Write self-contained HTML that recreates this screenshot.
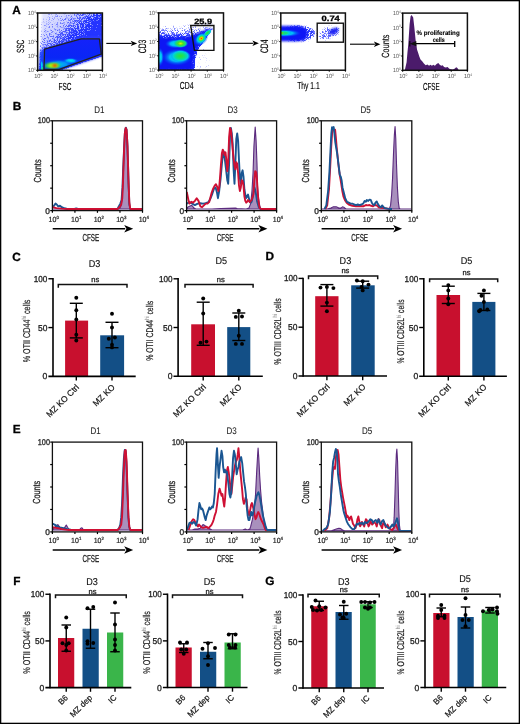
<!DOCTYPE html>
<html><head><meta charset="utf-8"><style>
html,body{margin:0;padding:0;background:#fff;width:520px;height:724px;overflow:hidden}
svg{display:block;font-family:"Liberation Sans", sans-serif;will-change:transform;text-rendering:geometricPrecision}
</style></head><body>
<svg width="520" height="724" viewBox="0 0 520 724">
<defs>
<radialGradient id="hot" cx="0.5" cy="0.5" r="0.5">
 <stop offset="0" stop-color="#ff1a00"/>
 <stop offset="0.3" stop-color="#ffb000"/>
 <stop offset="0.6" stop-color="#a0f000"/>
 <stop offset="1" stop-color="#40e040" stop-opacity="0"/>
</radialGradient>
<radialGradient id="warm" cx="0.5" cy="0.5" r="0.5">
 <stop offset="0" stop-color="#e8f000"/>
 <stop offset="0.35" stop-color="#50e020"/>
 <stop offset="0.7" stop-color="#10d890"/>
 <stop offset="1" stop-color="#00a0ff" stop-opacity="0"/>
</radialGradient>
<radialGradient id="green" cx="0.5" cy="0.5" r="0.5">
 <stop offset="0" stop-color="#30e030"/>
 <stop offset="0.45" stop-color="#10e080"/>
 <stop offset="0.75" stop-color="#00d0e0"/>
 <stop offset="1" stop-color="#0080ff" stop-opacity="0"/>
</radialGradient>
<radialGradient id="cyan" cx="0.5" cy="0.5" r="0.5">
 <stop offset="0" stop-color="#00f0e8"/>
 <stop offset="0.5" stop-color="#00b8f8"/>
 <stop offset="1" stop-color="#0040ff" stop-opacity="0"/>
</radialGradient>
<filter id="blur1" x="-20%" y="-20%" width="140%" height="140%"><feGaussianBlur stdDeviation="0.8"/></filter>
<filter id="blur2" x="-30%" y="-30%" width="160%" height="160%"><feGaussianBlur stdDeviation="1.5"/></filter>

<clipPath id="clipA1"><rect x="37.65" y="13" width="64.75" height="57.3"/></clipPath>
<clipPath id="clipA2"><rect x="158.7" y="12.9" width="64.8" height="57.2"/></clipPath>
<clipPath id="clipA3"><rect x="280.8" y="13" width="64.6" height="57.2"/></clipPath>
<clipPath id="clipA4"><rect x="402.7" y="13.1" width="64.7" height="57.2"/></clipPath>
<filter id="spk1" filterUnits="userSpaceOnUse" x="37.65" y="13" width="64.75" height="57.3" color-interpolation-filters="sRGB">
 <feTurbulence type="fractalNoise" baseFrequency="1.37" numOctaves="1" seed="11" result="noise"/>
 <feColorMatrix in="noise" type="matrix" values="0 0 0 0 0  0 0 0 0 0  0 0 0 0 0  1.5 0 0 0 -0.25" result="na"/>
 <feComposite in="SourceAlpha" in2="na" operator="arithmetic" k1="0" k2="5" k3="-5" k4="0.5" result="m"/>
 <feComposite in="m" in2="SourceAlpha" operator="arithmetic" k1="1.6" k2="0" k3="0" k4="0" result="m2"/>
 <feFlood flood-color="#2434ff" result="fl"/>
 <feComposite in="fl" in2="m2" operator="in" result="d"/>
 <feGaussianBlur in="d" stdDeviation="0.3"/>
</filter>
<linearGradient id="a1d" gradientUnits="userSpaceOnUse" x1="45" y1="14" x2="80" y2="52">
 <stop offset="0" stop-color="#000" stop-opacity="0.2"/><stop offset="0.45" stop-color="#000" stop-opacity="0.45"/><stop offset="1" stop-color="#000" stop-opacity="0.88"/></linearGradient>
<linearGradient id="a1g" gradientUnits="userSpaceOnUse" x1="0" y1="39" x2="0" y2="70">
 <stop offset="0" stop-color="#1422fa"/><stop offset="0.6" stop-color="#0a26f6"/><stop offset="1" stop-color="#0850f4"/></linearGradient>
<linearGradient id="a1t" gradientUnits="userSpaceOnUse" x1="45" y1="14" x2="80" y2="52"><stop offset="0" stop-color="#a8b0ff" stop-opacity="0.35"/><stop offset="1" stop-color="#5060ff" stop-opacity="0.55"/></linearGradient>
<filter id="spk2" filterUnits="userSpaceOnUse" x="158.7" y="12.9" width="64.8" height="57.2" color-interpolation-filters="sRGB">
 <feTurbulence type="fractalNoise" baseFrequency="1.37" numOctaves="1" seed="5" result="noise"/>
 <feColorMatrix in="noise" type="matrix" values="0 0 0 0 0  0 0 0 0 0  0 0 0 0 0  1.5 0 0 0 -0.25" result="na"/>
 <feComposite in="SourceAlpha" in2="na" operator="arithmetic" k1="0" k2="5" k3="-5" k4="0.5" result="m"/>
 <feComposite in="m" in2="SourceAlpha" operator="arithmetic" k1="1.6" k2="0" k3="0" k4="0" result="m2"/>
 <feFlood flood-color="#2434ff" result="fl"/>
 <feComposite in="fl" in2="m2" operator="in" result="d"/>
 <feGaussianBlur in="d" stdDeviation="0.3"/>
</filter>
<linearGradient id="a2top" gradientUnits="userSpaceOnUse" x1="0" y1="27" x2="0" y2="37">
 <stop offset="0" stop-color="#000" stop-opacity="0"/><stop offset="1" stop-color="#000" stop-opacity="1"/></linearGradient>
<linearGradient id="a2f" gradientUnits="userSpaceOnUse" x1="0" y1="26" x2="0" y2="39"><stop offset="0" stop-color="#000" stop-opacity="0.28"/><stop offset="1" stop-color="#000" stop-opacity="0.7"/></linearGradient>
<filter id="spk3" filterUnits="userSpaceOnUse" x="280.8" y="13" width="64.6" height="57.2" color-interpolation-filters="sRGB">
 <feTurbulence type="fractalNoise" baseFrequency="1.37" numOctaves="1" seed="9" result="noise"/>
 <feColorMatrix in="noise" type="matrix" values="0 0 0 0 0  0 0 0 0 0  0 0 0 0 0  1.5 0 0 0 -0.25" result="na"/>
 <feComposite in="SourceAlpha" in2="na" operator="arithmetic" k1="0" k2="5" k3="-5" k4="0.5" result="m"/>
 <feComposite in="m" in2="SourceAlpha" operator="arithmetic" k1="1.6" k2="0" k3="0" k4="0" result="m2"/>
 <feFlood flood-color="#2434ff" result="fl"/>
 <feComposite in="fl" in2="m2" operator="in" result="d"/>
 <feGaussianBlur in="d" stdDeviation="0.3"/>
</filter>
<clipPath id="hcB0"><rect x="52.4" y="118.8" width="90.1" height="91.3"/></clipPath>
<clipPath id="hcB1"><rect x="186.6" y="118.8" width="90" height="91.3"/></clipPath>
<clipPath id="hcB2"><rect x="321.3" y="118.8" width="90.5" height="91.3"/></clipPath>
<clipPath id="hcE0"><rect x="52.4" y="440.1" width="90.1" height="91.3"/></clipPath>
<clipPath id="hcE1"><rect x="186.6" y="440.1" width="90" height="91.3"/></clipPath>
<clipPath id="hcE2"><rect x="321.3" y="440.1" width="90.5" height="91.3"/></clipPath></defs>
<rect x="0.65" y="0.65" width="518.7" height="722.7" fill="none" stroke="#000" stroke-width="1.3"/>
<text x="12.3" y="13.8" font-size="11.8" text-anchor="start" fill="#000" stroke="#000" stroke-width="0.3" font-weight="bold">A</text>
<text x="12.8" y="110.3" font-size="11.8" text-anchor="start" fill="#000" stroke="#000" stroke-width="0.3" font-weight="bold">B</text>
<text x="12.3" y="261" font-size="11.8" text-anchor="start" fill="#000" stroke="#000" stroke-width="0.3" font-weight="bold">C</text>
<text x="265.5" y="260.4" font-size="11.8" text-anchor="start" fill="#000" stroke="#000" stroke-width="0.3" font-weight="bold">D</text>
<text x="12.8" y="433.1" font-size="11.8" text-anchor="start" fill="#000" stroke="#000" stroke-width="0.3" font-weight="bold">E</text>
<text x="13.2" y="584.5" font-size="11.8" text-anchor="start" fill="#000" stroke="#000" stroke-width="0.3" font-weight="bold">F</text>
<text x="265.2" y="584.5" font-size="11.8" text-anchor="start" fill="#000" stroke="#000" stroke-width="0.3" font-weight="bold">G</text>
<g clip-path="url(#clipA1)">
<polygon points="42,12 103,12 103,56 59,71 39,71 41,46" fill="url(#a1t)" filter="url(#blur1)"/>
<g filter="url(#spk1)"><polygon points="41,12 103,12 103,56 59,71 39,71 40,46" fill="url(#a1d)"/><polygon points="97,12 103,12 103,56 97,56" fill="#000" fill-opacity="0.15"/></g>
<polygon points="40.5,50 80,37 103,36 103,55.4 59,70.6 39.5,70.6" fill="#3040ff" opacity="0.85" filter="url(#blur1)"/>
<polygon points="44.6,49.2 81.1,38.9 99.4,38.9 101.3,54.1 59.2,69.4 44,69.4" fill="url(#a1g)"/>
<polygon points="99.4,38.9 103,38 103,55.3 101.3,54.1" fill="#1a2cff"/>
<polygon points="40.2,54 44.6,49.2 44,70.6 39.8,70.6" fill="#1440ff" filter="url(#blur1)"/>
<ellipse cx="41.8" cy="65" rx="1.3" ry="5.5" fill="url(#cyan)"/>
<ellipse cx="42.2" cy="68.5" rx="1.2" ry="2" fill="url(#green)"/>
<ellipse cx="70.5" cy="60.8" rx="8" ry="3" fill="url(#cyan)"/>
<ellipse cx="59" cy="64.2" rx="15" ry="5" fill="url(#cyan)" opacity="0.7"/>
<ellipse cx="52.3" cy="65.7" rx="8" ry="2.8" fill="#30e040" filter="url(#blur1)"/>
<ellipse cx="53.2" cy="65.5" rx="5" ry="2.1" fill="#c8f000" opacity="0.9" filter="url(#blur1)"/>
<ellipse cx="54.8" cy="65.6" rx="2.3" ry="1.3" fill="#ff2a00" filter="url(#blur1)"/>
</g>
<polygon points="44.6,49.2 81.1,38.9 99.4,38.9 101.3,54.1 59.2,69.4 44,69.4" fill="none" stroke="#222" stroke-width="1.3" stroke-linejoin="round"/>
<rect x="37.65" y="13" width="64.75" height="57.3" fill="none" stroke="#111" stroke-width="1.5"/>
<text x="35.65" y="72.4" font-size="6" text-anchor="end" fill="#555" textLength="7.6" lengthAdjust="spacingAndGlyphs">10<tspan font-size="3.6" dy="-2.2">0</tspan></text>
<line x1="36.05" y1="70.3" x2="37.65" y2="70.3" stroke="#000" stroke-width="0.9"/>
<text x="35.65" y="58.07" font-size="6" text-anchor="end" fill="#555" textLength="7.6" lengthAdjust="spacingAndGlyphs">10<tspan font-size="3.6" dy="-2.2">1</tspan></text>
<line x1="36.05" y1="55.97" x2="37.65" y2="55.97" stroke="#000" stroke-width="0.9"/>
<text x="35.65" y="43.75" font-size="6" text-anchor="end" fill="#555" textLength="7.6" lengthAdjust="spacingAndGlyphs">10<tspan font-size="3.6" dy="-2.2">2</tspan></text>
<line x1="36.05" y1="41.65" x2="37.65" y2="41.65" stroke="#000" stroke-width="0.9"/>
<text x="35.65" y="29.43" font-size="6" text-anchor="end" fill="#555" textLength="7.6" lengthAdjust="spacingAndGlyphs">10<tspan font-size="3.6" dy="-2.2">3</tspan></text>
<line x1="36.05" y1="27.33" x2="37.65" y2="27.33" stroke="#000" stroke-width="0.9"/>
<text x="35.65" y="15.1" font-size="6" text-anchor="end" fill="#555" textLength="7.6" lengthAdjust="spacingAndGlyphs">10<tspan font-size="3.6" dy="-2.2">4</tspan></text>
<line x1="36.05" y1="13" x2="37.65" y2="13" stroke="#000" stroke-width="0.9"/>
<text x="38.25" y="77.9" font-size="6" text-anchor="middle" fill="#555" textLength="8.0" lengthAdjust="spacingAndGlyphs">10<tspan font-size="3.6" dy="-2.2">0</tspan></text>
<line x1="37.65" y1="70.3" x2="37.65" y2="71.9" stroke="#000" stroke-width="0.9"/>
<text x="54.44" y="77.9" font-size="6" text-anchor="middle" fill="#555" textLength="8.0" lengthAdjust="spacingAndGlyphs">10<tspan font-size="3.6" dy="-2.2">1</tspan></text>
<line x1="53.84" y1="70.3" x2="53.84" y2="71.9" stroke="#000" stroke-width="0.9"/>
<text x="70.62" y="77.9" font-size="6" text-anchor="middle" fill="#555" textLength="8.0" lengthAdjust="spacingAndGlyphs">10<tspan font-size="3.6" dy="-2.2">2</tspan></text>
<line x1="70.03" y1="70.3" x2="70.03" y2="71.9" stroke="#000" stroke-width="0.9"/>
<text x="86.81" y="77.9" font-size="6" text-anchor="middle" fill="#555" textLength="8.0" lengthAdjust="spacingAndGlyphs">10<tspan font-size="3.6" dy="-2.2">3</tspan></text>
<line x1="86.21" y1="70.3" x2="86.21" y2="71.9" stroke="#000" stroke-width="0.9"/>
<text x="103" y="77.9" font-size="6" text-anchor="middle" fill="#555" textLength="8.0" lengthAdjust="spacingAndGlyphs">10<tspan font-size="3.6" dy="-2.2">4</tspan></text>
<line x1="102.4" y1="70.3" x2="102.4" y2="71.9" stroke="#000" stroke-width="0.9"/>
<text x="23.8" y="46.5" font-size="10.4" text-anchor="middle" fill="#000" stroke="#000" stroke-width="0.15" transform="rotate(-90 23.8 46.5)" textLength="13.2" lengthAdjust="spacingAndGlyphs">SSC</text>
<text x="65" y="89.6" font-size="10.2" text-anchor="middle" fill="#000" stroke="#000" stroke-width="0.15" textLength="13" lengthAdjust="spacingAndGlyphs">FSC</text>
<line x1="106.3" y1="43.4" x2="131.7" y2="43.4" stroke="#000" stroke-width="1.1"/>
<path d="M137.2 43.4L130.7 40.7L132.32 43.4L130.7 46.1Z" fill="#000"/>
<g clip-path="url(#clipA2)">
<g filter="url(#spk2)">
<path d="M158 26 L175 25 L190 24 L200 23 L213 22 L214 28 L205 40 L198 50 L195 60 L195 70.5 L158 70.5 Z" fill="url(#a2f)"/>
<path d="M196 53 L204 45 L211 46 L209 70.5 L195 70.5 Z" fill="#000" fill-opacity="0.24" filter="url(#blur2)"/>
<path d="M205 28 L213 27 L217 34 L214 44 L209 42 Z" fill="#000" fill-opacity="0.14" filter="url(#blur2)"/>
</g>
<path d="M158 37.6 L170 37 L182 37.8 L189 36.6 L196 33.8 L204 30.5 L211 28.3 L209 32.5 L202 41.5 L196 50 L193.2 60 L192.8 70.5 L158 70.5 Z" fill="#0a18f4" filter="url(#blur1)"/>
<ellipse cx="159.6" cy="57" rx="4.5" ry="9.5" fill="url(#cyan)"/>
<ellipse cx="177" cy="57.2" rx="15" ry="8.5" fill="url(#cyan)"/>
<ellipse cx="180.5" cy="56" rx="10" ry="6.2" fill="url(#green)"/>
<ellipse cx="175.5" cy="43.7" rx="10.5" ry="4.8" fill="url(#cyan)"/>
<ellipse cx="180.6" cy="43.5" rx="7.5" ry="4.4" fill="url(#warm)"/>
<ellipse cx="201" cy="38.8" rx="8" ry="6" fill="url(#cyan)" transform="rotate(-40 201 38.8)"/>
<ellipse cx="207.5" cy="33" rx="5" ry="2.4" fill="url(#green)" transform="rotate(-40 207.5 33)"/>
<ellipse cx="201.3" cy="38.5" rx="5.5" ry="4.4" fill="url(#green)" transform="rotate(-40 201.3 38.5)"/>
<ellipse cx="201.3" cy="38.4" rx="3.2" ry="2.5" fill="url(#hot)" transform="rotate(-40 201.3 38.4)"/>
</g>
<polygon points="190.7,25.5 213.9,25.5 213.9,50.4 194.4,50.4" fill="none" stroke="#111" stroke-width="1.4" stroke-linejoin="miter"/>
<rect x="158.7" y="12.9" width="64.8" height="57.2" fill="none" stroke="#111" stroke-width="1.5"/>
<text x="156.7" y="72.2" font-size="6" text-anchor="end" fill="#555" textLength="7.6" lengthAdjust="spacingAndGlyphs">10<tspan font-size="3.6" dy="-2.2">0</tspan></text>
<line x1="157.1" y1="70.1" x2="158.7" y2="70.1" stroke="#000" stroke-width="0.9"/>
<text x="156.7" y="57.9" font-size="6" text-anchor="end" fill="#555" textLength="7.6" lengthAdjust="spacingAndGlyphs">10<tspan font-size="3.6" dy="-2.2">1</tspan></text>
<line x1="157.1" y1="55.8" x2="158.7" y2="55.8" stroke="#000" stroke-width="0.9"/>
<text x="156.7" y="43.6" font-size="6" text-anchor="end" fill="#555" textLength="7.6" lengthAdjust="spacingAndGlyphs">10<tspan font-size="3.6" dy="-2.2">2</tspan></text>
<line x1="157.1" y1="41.5" x2="158.7" y2="41.5" stroke="#000" stroke-width="0.9"/>
<text x="156.7" y="29.3" font-size="6" text-anchor="end" fill="#555" textLength="7.6" lengthAdjust="spacingAndGlyphs">10<tspan font-size="3.6" dy="-2.2">3</tspan></text>
<line x1="157.1" y1="27.2" x2="158.7" y2="27.2" stroke="#000" stroke-width="0.9"/>
<text x="156.7" y="15" font-size="6" text-anchor="end" fill="#555" textLength="7.6" lengthAdjust="spacingAndGlyphs">10<tspan font-size="3.6" dy="-2.2">4</tspan></text>
<line x1="157.1" y1="12.9" x2="158.7" y2="12.9" stroke="#000" stroke-width="0.9"/>
<text x="159.3" y="77.7" font-size="6" text-anchor="middle" fill="#555" textLength="8.0" lengthAdjust="spacingAndGlyphs">10<tspan font-size="3.6" dy="-2.2">0</tspan></text>
<line x1="158.7" y1="70.1" x2="158.7" y2="71.7" stroke="#000" stroke-width="0.9"/>
<text x="175.5" y="77.7" font-size="6" text-anchor="middle" fill="#555" textLength="8.0" lengthAdjust="spacingAndGlyphs">10<tspan font-size="3.6" dy="-2.2">1</tspan></text>
<line x1="174.9" y1="70.1" x2="174.9" y2="71.7" stroke="#000" stroke-width="0.9"/>
<text x="191.7" y="77.7" font-size="6" text-anchor="middle" fill="#555" textLength="8.0" lengthAdjust="spacingAndGlyphs">10<tspan font-size="3.6" dy="-2.2">2</tspan></text>
<line x1="191.1" y1="70.1" x2="191.1" y2="71.7" stroke="#000" stroke-width="0.9"/>
<text x="207.9" y="77.7" font-size="6" text-anchor="middle" fill="#555" textLength="8.0" lengthAdjust="spacingAndGlyphs">10<tspan font-size="3.6" dy="-2.2">3</tspan></text>
<line x1="207.3" y1="70.1" x2="207.3" y2="71.7" stroke="#000" stroke-width="0.9"/>
<text x="224.1" y="77.7" font-size="6" text-anchor="middle" fill="#555" textLength="8.0" lengthAdjust="spacingAndGlyphs">10<tspan font-size="3.6" dy="-2.2">4</tspan></text>
<line x1="223.5" y1="70.1" x2="223.5" y2="71.7" stroke="#000" stroke-width="0.9"/>
<text x="194.2" y="23.9" font-size="7.7" text-anchor="start" fill="#000" stroke="#000" stroke-width="0.3" font-weight="bold" textLength="17.8" lengthAdjust="spacingAndGlyphs">25.9</text>
<text x="145.7" y="46.4" font-size="10.8" text-anchor="middle" fill="#000" stroke="#000" stroke-width="0.15" transform="rotate(-90 145.7 46.4)" textLength="13.5" lengthAdjust="spacingAndGlyphs">CD3</text>
<text x="186.7" y="88.8" font-size="10.2" text-anchor="middle" fill="#000" stroke="#000" stroke-width="0.15" textLength="13.7" lengthAdjust="spacingAndGlyphs">CD4</text>
<line x1="228" y1="43.3" x2="253.4" y2="43.3" stroke="#000" stroke-width="1.1"/>
<path d="M258.9 43.3L252.4 40.6L254.02 43.3L252.4 46Z" fill="#000"/>
<g clip-path="url(#clipA3)">
<g filter="url(#spk3)">
<ellipse cx="298" cy="33.4" rx="18" ry="9" fill="#000" fill-opacity="0.6" filter="url(#blur2)"/>
<ellipse cx="329" cy="33" rx="12" ry="6.5" fill="#000" fill-opacity="0.5" filter="url(#blur2)" transform="rotate(-20 329 33)"/>
</g>
<path d="M279 25.7 L298 25.9 L304 27.5 L307 31 L307 37 L304 40.5 L297 41.2 L279 41.2 Z" fill="#0a12f6" filter="url(#blur1)"/>
<ellipse cx="285" cy="33.2" rx="16" ry="3.8" fill="url(#cyan)"/>
<ellipse cx="283" cy="33.1" rx="8.5" ry="2.7" fill="url(#green)"/>
<ellipse cx="281.5" cy="33" rx="4" ry="1.6" fill="url(#warm)"/>
<ellipse cx="333.6" cy="31.2" rx="5" ry="2.8" fill="#1a20f4" filter="url(#blur1)" transform="rotate(-28 333.6 31.2)"/>
</g>
<rect x="317.2" y="23.2" width="26.2" height="19" fill="none" stroke="#111" stroke-width="1.4"/>
<rect x="280.8" y="13" width="64.6" height="57.2" fill="none" stroke="#111" stroke-width="1.5"/>
<text x="278.8" y="72.3" font-size="6" text-anchor="end" fill="#555" textLength="7.6" lengthAdjust="spacingAndGlyphs">10<tspan font-size="3.6" dy="-2.2">0</tspan></text>
<line x1="279.2" y1="70.2" x2="280.8" y2="70.2" stroke="#000" stroke-width="0.9"/>
<text x="278.8" y="58" font-size="6" text-anchor="end" fill="#555" textLength="7.6" lengthAdjust="spacingAndGlyphs">10<tspan font-size="3.6" dy="-2.2">1</tspan></text>
<line x1="279.2" y1="55.9" x2="280.8" y2="55.9" stroke="#000" stroke-width="0.9"/>
<text x="278.8" y="43.7" font-size="6" text-anchor="end" fill="#555" textLength="7.6" lengthAdjust="spacingAndGlyphs">10<tspan font-size="3.6" dy="-2.2">2</tspan></text>
<line x1="279.2" y1="41.6" x2="280.8" y2="41.6" stroke="#000" stroke-width="0.9"/>
<text x="278.8" y="29.4" font-size="6" text-anchor="end" fill="#555" textLength="7.6" lengthAdjust="spacingAndGlyphs">10<tspan font-size="3.6" dy="-2.2">3</tspan></text>
<line x1="279.2" y1="27.3" x2="280.8" y2="27.3" stroke="#000" stroke-width="0.9"/>
<text x="278.8" y="15.1" font-size="6" text-anchor="end" fill="#555" textLength="7.6" lengthAdjust="spacingAndGlyphs">10<tspan font-size="3.6" dy="-2.2">4</tspan></text>
<line x1="279.2" y1="13" x2="280.8" y2="13" stroke="#000" stroke-width="0.9"/>
<text x="281.4" y="77.8" font-size="6" text-anchor="middle" fill="#555" textLength="8.0" lengthAdjust="spacingAndGlyphs">10<tspan font-size="3.6" dy="-2.2">0</tspan></text>
<line x1="280.8" y1="70.2" x2="280.8" y2="71.8" stroke="#000" stroke-width="0.9"/>
<text x="297.55" y="77.8" font-size="6" text-anchor="middle" fill="#555" textLength="8.0" lengthAdjust="spacingAndGlyphs">10<tspan font-size="3.6" dy="-2.2">1</tspan></text>
<line x1="296.95" y1="70.2" x2="296.95" y2="71.8" stroke="#000" stroke-width="0.9"/>
<text x="313.7" y="77.8" font-size="6" text-anchor="middle" fill="#555" textLength="8.0" lengthAdjust="spacingAndGlyphs">10<tspan font-size="3.6" dy="-2.2">2</tspan></text>
<line x1="313.1" y1="70.2" x2="313.1" y2="71.8" stroke="#000" stroke-width="0.9"/>
<text x="329.85" y="77.8" font-size="6" text-anchor="middle" fill="#555" textLength="8.0" lengthAdjust="spacingAndGlyphs">10<tspan font-size="3.6" dy="-2.2">3</tspan></text>
<line x1="329.25" y1="70.2" x2="329.25" y2="71.8" stroke="#000" stroke-width="0.9"/>
<text x="346" y="77.8" font-size="6" text-anchor="middle" fill="#555" textLength="8.0" lengthAdjust="spacingAndGlyphs">10<tspan font-size="3.6" dy="-2.2">4</tspan></text>
<line x1="345.4" y1="70.2" x2="345.4" y2="71.8" stroke="#000" stroke-width="0.9"/>
<text x="321.6" y="21" font-size="7.7" text-anchor="start" fill="#000" stroke="#000" stroke-width="0.3" font-weight="bold" textLength="18.2" lengthAdjust="spacingAndGlyphs">0.74</text>
<text x="267.6" y="46.35" font-size="10.8" text-anchor="middle" fill="#000" stroke="#000" stroke-width="0.15" transform="rotate(-90 267.6 46.35)" textLength="13.5" lengthAdjust="spacingAndGlyphs">CD4</text>
<text x="308.4" y="88.8" font-size="10.2" text-anchor="middle" fill="#000" stroke="#000" stroke-width="0.15" textLength="22.5" lengthAdjust="spacingAndGlyphs">Thy 1.1</text>
<line x1="350" y1="44.2" x2="374.9" y2="44.2" stroke="#000" stroke-width="1.1"/>
<path d="M380.4 44.2L373.9 41.5L375.52 44.2L373.9 46.9Z" fill="#000"/>
<polygon points="404.6,70.3 404.9,69.8 406.6,62.3 407.5,51.9 408.3,44.2 409.6,24.3 410.6,16.3 411.6,15 413.2,17.6 414.3,26.9 415.6,40 416.4,45 417,49.6 418.2,53.1 419.3,56.5 420.5,59.4 422.2,61.2 423.9,63.5 425.7,65.2 427.4,64.6 429.1,65.8 430.3,64.8 432,65.8 433.2,64.8 434.9,65.8 436.6,64 438.3,62.9 439.5,64.6 441.2,65.8 442.6,65.2 444.1,66.9 445.8,67.5 447.6,66.9 449.3,68.7 451,69.2 452.8,69.5 454.5,68.7 456.2,67.3 457.4,68.1 458.5,69.8 459,70.3" fill="#4b1b6b"/>
<rect x="402.7" y="13.1" width="64.7" height="57.2" fill="none" stroke="#111" stroke-width="1.5"/>
<text x="400.7" y="72.4" font-size="6" text-anchor="end" fill="#555" textLength="7.6" lengthAdjust="spacingAndGlyphs">10<tspan font-size="3.6" dy="-2.2">0</tspan></text>
<line x1="401.1" y1="70.3" x2="402.7" y2="70.3" stroke="#000" stroke-width="0.9"/>
<text x="400.7" y="58.1" font-size="6" text-anchor="end" fill="#555" textLength="7.6" lengthAdjust="spacingAndGlyphs">10<tspan font-size="3.6" dy="-2.2">1</tspan></text>
<line x1="401.1" y1="56" x2="402.7" y2="56" stroke="#000" stroke-width="0.9"/>
<text x="400.7" y="43.8" font-size="6" text-anchor="end" fill="#555" textLength="7.6" lengthAdjust="spacingAndGlyphs">10<tspan font-size="3.6" dy="-2.2">2</tspan></text>
<line x1="401.1" y1="41.7" x2="402.7" y2="41.7" stroke="#000" stroke-width="0.9"/>
<text x="400.7" y="29.5" font-size="6" text-anchor="end" fill="#555" textLength="7.6" lengthAdjust="spacingAndGlyphs">10<tspan font-size="3.6" dy="-2.2">3</tspan></text>
<line x1="401.1" y1="27.4" x2="402.7" y2="27.4" stroke="#000" stroke-width="0.9"/>
<text x="400.7" y="15.2" font-size="6" text-anchor="end" fill="#555" textLength="7.6" lengthAdjust="spacingAndGlyphs">10<tspan font-size="3.6" dy="-2.2">4</tspan></text>
<line x1="401.1" y1="13.1" x2="402.7" y2="13.1" stroke="#000" stroke-width="0.9"/>
<text x="403.3" y="77.9" font-size="6" text-anchor="middle" fill="#555" textLength="8.0" lengthAdjust="spacingAndGlyphs">10<tspan font-size="3.6" dy="-2.2">0</tspan></text>
<line x1="402.7" y1="70.3" x2="402.7" y2="71.9" stroke="#000" stroke-width="0.9"/>
<text x="419.48" y="77.9" font-size="6" text-anchor="middle" fill="#555" textLength="8.0" lengthAdjust="spacingAndGlyphs">10<tspan font-size="3.6" dy="-2.2">1</tspan></text>
<line x1="418.88" y1="70.3" x2="418.88" y2="71.9" stroke="#000" stroke-width="0.9"/>
<text x="435.65" y="77.9" font-size="6" text-anchor="middle" fill="#555" textLength="8.0" lengthAdjust="spacingAndGlyphs">10<tspan font-size="3.6" dy="-2.2">2</tspan></text>
<line x1="435.05" y1="70.3" x2="435.05" y2="71.9" stroke="#000" stroke-width="0.9"/>
<text x="451.82" y="77.9" font-size="6" text-anchor="middle" fill="#555" textLength="8.0" lengthAdjust="spacingAndGlyphs">10<tspan font-size="3.6" dy="-2.2">3</tspan></text>
<line x1="451.22" y1="70.3" x2="451.22" y2="71.9" stroke="#000" stroke-width="0.9"/>
<text x="468" y="77.9" font-size="6" text-anchor="middle" fill="#555" textLength="8.0" lengthAdjust="spacingAndGlyphs">10<tspan font-size="3.6" dy="-2.2">4</tspan></text>
<line x1="467.4" y1="70.3" x2="467.4" y2="71.9" stroke="#000" stroke-width="0.9"/>
<line x1="412" y1="43.7" x2="454.7" y2="43.7" stroke="#000" stroke-width="1.2"/>
<path d="M409.8 43.7 L416.3 41.1 L416.3 46.3 Z" fill="#111"/>
<line x1="409.8" y1="41" x2="409.8" y2="46.5" stroke="#000" stroke-width="1.1"/>
<line x1="454.7" y1="40.9" x2="454.7" y2="47" stroke="#000" stroke-width="1.3"/>
<text x="438.1" y="35.4" font-size="6.5" text-anchor="middle" fill="#000" stroke="#000" stroke-width="0.12" font-weight="bold" textLength="43.1" lengthAdjust="spacingAndGlyphs">% proliferating</text>
<text x="438.8" y="41.6" font-size="6.5" text-anchor="middle" fill="#000" stroke="#000" stroke-width="0.12" font-weight="bold" textLength="12" lengthAdjust="spacingAndGlyphs">cells</text>
<text x="389.2" y="46.1" font-size="10.4" text-anchor="middle" fill="#000" stroke="#000" stroke-width="0.15" transform="rotate(-90 389.2 46.1)" textLength="23.1" lengthAdjust="spacingAndGlyphs">Counts</text>
<text x="431.3" y="89.9" font-size="10.2" text-anchor="middle" fill="#000" stroke="#000" stroke-width="0.15" textLength="16.8" lengthAdjust="spacingAndGlyphs">CFSE</text>
<g clip-path="url(#hcB0)"><g transform="translate(51 119) scale(0.18)">
<polygon points="10,500 380,500 390,480 396,430 400,330 405,200 410,90 415,55 420,80 425,200 430,380 435,480 440,500" fill="#9a7db2" fill-opacity="0.85" stroke="#5b2a7e" stroke-width="1.1" vector-effect="non-scaling-stroke" stroke-linejoin="round"/>
<polyline points="10,490 18,480 25,470 32,475 40,485 50,482 60,490 75,496 90,500 130,500 140,497 150,500 370,500 375,488 385,470 392,450 397,380 402,250 408,120 412,60 416,48 420,60 425,150 430,320 435,470 440,500 505,500" fill="none" stroke="#1a5692" stroke-width="1.9" vector-effect="non-scaling-stroke" stroke-linejoin="round"/>
<polyline points="10,490 30,495 60,498 100,500 370,500 380,490 390,475 396,440 400,350 405,200 410,80 415,50 420,60 425,150 430,330 435,460 440,498 445,500 505,500" fill="none" stroke="#cf1034" stroke-width="1.9" vector-effect="non-scaling-stroke" stroke-linejoin="round"/>
</g></g>
<rect x="52.4" y="120.8" width="90.1" height="89.8" fill="none" stroke="#111" stroke-width="1.3"/>
<line x1="50.2" y1="210.6" x2="52.4" y2="210.6" stroke="#000" stroke-width="1.2"/>
<line x1="52.4" y1="210.6" x2="52.4" y2="212.8" stroke="#000" stroke-width="1.2"/>
<text x="53.7" y="221.9" font-size="7.4" text-anchor="middle" fill="#222" stroke="#222" stroke-width="0.2" textLength="10.2" lengthAdjust="spacingAndGlyphs">10<tspan font-size="4.6" dy="-3.0">0</tspan></text>
<line x1="50.2" y1="188.15" x2="52.4" y2="188.15" stroke="#000" stroke-width="1.2"/>
<line x1="74.92" y1="210.6" x2="74.92" y2="212.8" stroke="#000" stroke-width="1.2"/>
<text x="76.22" y="221.9" font-size="7.4" text-anchor="middle" fill="#222" stroke="#222" stroke-width="0.2" textLength="10.2" lengthAdjust="spacingAndGlyphs">10<tspan font-size="4.6" dy="-3.0">1</tspan></text>
<line x1="50.2" y1="165.7" x2="52.4" y2="165.7" stroke="#000" stroke-width="1.2"/>
<line x1="97.45" y1="210.6" x2="97.45" y2="212.8" stroke="#000" stroke-width="1.2"/>
<text x="98.75" y="221.9" font-size="7.4" text-anchor="middle" fill="#222" stroke="#222" stroke-width="0.2" textLength="10.2" lengthAdjust="spacingAndGlyphs">10<tspan font-size="4.6" dy="-3.0">2</tspan></text>
<line x1="50.2" y1="143.25" x2="52.4" y2="143.25" stroke="#000" stroke-width="1.2"/>
<line x1="119.97" y1="210.6" x2="119.97" y2="212.8" stroke="#000" stroke-width="1.2"/>
<text x="121.27" y="221.9" font-size="7.4" text-anchor="middle" fill="#222" stroke="#222" stroke-width="0.2" textLength="10.2" lengthAdjust="spacingAndGlyphs">10<tspan font-size="4.6" dy="-3.0">3</tspan></text>
<line x1="50.2" y1="120.8" x2="52.4" y2="120.8" stroke="#000" stroke-width="1.2"/>
<line x1="142.5" y1="210.6" x2="142.5" y2="212.8" stroke="#000" stroke-width="1.2"/>
<text x="143.8" y="221.9" font-size="7.4" text-anchor="middle" fill="#222" stroke="#222" stroke-width="0.2" textLength="10.2" lengthAdjust="spacingAndGlyphs">10<tspan font-size="4.6" dy="-3.0">4</tspan></text>
<text x="50" y="123.4" font-size="8.4" text-anchor="end" fill="#222" stroke="#222" stroke-width="0.3" textLength="12.2" lengthAdjust="spacingAndGlyphs">100</text>
<text x="50" y="213.5" font-size="8.4" text-anchor="end" fill="#222" stroke="#222" stroke-width="0.3">0</text>
<text x="99.25" y="112.7" font-size="9.6" text-anchor="middle" fill="#222" stroke="#222" stroke-width="0.08" textLength="10.2" lengthAdjust="spacingAndGlyphs">D1</text>
<text x="40.5" y="171" font-size="10.2" text-anchor="middle" fill="#222" stroke="#222" stroke-width="0.3" transform="rotate(-90 40.5 171)" textLength="23.1" lengthAdjust="spacingAndGlyphs">Counts</text>
<line x1="52.7" y1="228.7" x2="125.2" y2="228.7" stroke="#000" stroke-width="1.5"/>
<path d="M133.2 228.7L124.2 224.95L126.45 228.7L124.2 232.45Z" fill="#000"/>
<text x="90.8" y="241.1" font-size="10" text-anchor="middle" fill="#222" stroke="#222" stroke-width="0.3" textLength="16.7" lengthAdjust="spacingAndGlyphs">CFSE</text>
<g clip-path="url(#hcB1)"><g transform="translate(185 119) scale(0.18)">
<polygon points="10,500 15,490 25,485 35,480 40,482 50,495 60,500 150,500 200,497 280,495 290,498 340,500 355,495 365,470 372,400 378,300 383,150 390,45 395,120 400,250 403,380 408,440 415,480 420,498 425,500" fill="#9a7db2" fill-opacity="0.85" stroke="#5b2a7e" stroke-width="1.1" vector-effect="non-scaling-stroke" stroke-linejoin="round"/>
<polyline points="10,470 25,462 40,470 55,478 70,470 85,468 100,470 115,468 130,462 140,445 150,420 160,390 170,380 178,410 183,440 190,400 198,330 205,250 210,200 215,180 222,230 228,280 235,340 240,360 245,250 250,100 255,50 260,80 265,140 270,280 275,360 280,240 285,110 290,80 295,120 300,230 305,330 310,360 315,300 320,285 325,320 330,390 335,420 340,440 345,430 350,420 355,440 360,460 365,465 370,460 375,440 380,410 385,380 390,395 395,420 400,455 410,490 420,500 505,500" fill="none" stroke="#1a5692" stroke-width="1.9" vector-effect="non-scaling-stroke" stroke-linejoin="round"/>
<polyline points="10,405 15,430 20,455 25,470 35,460 45,465 55,455 65,440 75,455 85,485 95,490 105,480 115,470 125,470 135,460 140,440 148,410 155,390 165,370 172,362 180,380 185,400 190,380 195,320 200,250 205,190 210,170 215,185 220,200 225,185 230,230 235,290 240,240 245,100 250,50 255,60 260,110 265,170 270,220 275,260 280,280 285,240 290,250 295,300 300,370 305,400 310,380 315,340 320,345 325,370 330,430 335,455 340,465 345,460 350,450 360,462 370,450 380,420 385,340 390,290 395,295 400,340 405,420 410,470 415,495 425,500 505,500" fill="none" stroke="#cf1034" stroke-width="1.9" vector-effect="non-scaling-stroke" stroke-linejoin="round"/>
</g></g>
<rect x="186.6" y="120.8" width="90" height="89.8" fill="none" stroke="#111" stroke-width="1.3"/>
<line x1="184.4" y1="210.6" x2="186.6" y2="210.6" stroke="#000" stroke-width="1.2"/>
<line x1="186.6" y1="210.6" x2="186.6" y2="212.8" stroke="#000" stroke-width="1.2"/>
<text x="187.9" y="221.9" font-size="7.4" text-anchor="middle" fill="#222" stroke="#222" stroke-width="0.2" textLength="10.2" lengthAdjust="spacingAndGlyphs">10<tspan font-size="4.6" dy="-3.0">0</tspan></text>
<line x1="184.4" y1="188.15" x2="186.6" y2="188.15" stroke="#000" stroke-width="1.2"/>
<line x1="209.1" y1="210.6" x2="209.1" y2="212.8" stroke="#000" stroke-width="1.2"/>
<text x="210.4" y="221.9" font-size="7.4" text-anchor="middle" fill="#222" stroke="#222" stroke-width="0.2" textLength="10.2" lengthAdjust="spacingAndGlyphs">10<tspan font-size="4.6" dy="-3.0">1</tspan></text>
<line x1="184.4" y1="165.7" x2="186.6" y2="165.7" stroke="#000" stroke-width="1.2"/>
<line x1="231.6" y1="210.6" x2="231.6" y2="212.8" stroke="#000" stroke-width="1.2"/>
<text x="232.9" y="221.9" font-size="7.4" text-anchor="middle" fill="#222" stroke="#222" stroke-width="0.2" textLength="10.2" lengthAdjust="spacingAndGlyphs">10<tspan font-size="4.6" dy="-3.0">2</tspan></text>
<line x1="184.4" y1="143.25" x2="186.6" y2="143.25" stroke="#000" stroke-width="1.2"/>
<line x1="254.1" y1="210.6" x2="254.1" y2="212.8" stroke="#000" stroke-width="1.2"/>
<text x="255.4" y="221.9" font-size="7.4" text-anchor="middle" fill="#222" stroke="#222" stroke-width="0.2" textLength="10.2" lengthAdjust="spacingAndGlyphs">10<tspan font-size="4.6" dy="-3.0">3</tspan></text>
<line x1="184.4" y1="120.8" x2="186.6" y2="120.8" stroke="#000" stroke-width="1.2"/>
<line x1="276.6" y1="210.6" x2="276.6" y2="212.8" stroke="#000" stroke-width="1.2"/>
<text x="277.9" y="221.9" font-size="7.4" text-anchor="middle" fill="#222" stroke="#222" stroke-width="0.2" textLength="10.2" lengthAdjust="spacingAndGlyphs">10<tspan font-size="4.6" dy="-3.0">4</tspan></text>
<text x="184.2" y="123.4" font-size="8.4" text-anchor="end" fill="#222" stroke="#222" stroke-width="0.3" textLength="12.2" lengthAdjust="spacingAndGlyphs">100</text>
<text x="184.2" y="213.5" font-size="8.4" text-anchor="end" fill="#222" stroke="#222" stroke-width="0.3">0</text>
<text x="232.7" y="113.4" font-size="9.6" text-anchor="middle" fill="#222" stroke="#222" stroke-width="0.08" textLength="10.2" lengthAdjust="spacingAndGlyphs">D3</text>
<text x="174.7" y="171" font-size="10.2" text-anchor="middle" fill="#222" stroke="#222" stroke-width="0.3" transform="rotate(-90 174.7 171)" textLength="23.1" lengthAdjust="spacingAndGlyphs">Counts</text>
<line x1="186.9" y1="228.7" x2="259.4" y2="228.7" stroke="#000" stroke-width="1.5"/>
<path d="M267.4 228.7L258.4 224.95L260.65 228.7L258.4 232.45Z" fill="#000"/>
<text x="225" y="241.1" font-size="10" text-anchor="middle" fill="#222" stroke="#222" stroke-width="0.3" textLength="16.7" lengthAdjust="spacingAndGlyphs">CFSE</text>
<g clip-path="url(#hcB2)"><g transform="translate(320 119) scale(0.18)">
<polygon points="8,500 40,500 60,495 75,488 90,488 105,495 115,495 125,488 135,492 145,500 385,500 392,480 398,420 403,330 408,200 413,90 417,42 421,110 425,250 430,380 435,460 440,495 445,500 505,500" fill="#9a7db2" fill-opacity="0.85" stroke="#5b2a7e" stroke-width="1.1" vector-effect="non-scaling-stroke" stroke-linejoin="round"/>
<polyline points="30,500 40,480 50,390 56,280 62,160 67,80 72,55 78,60 84,60 88,100 92,150 97,200 102,250 108,300 113,330 118,360 124,400 130,430 138,450 148,465 160,475 180,482 200,485 220,483 240,485 255,478 265,480 275,478 285,482 295,485 305,478 315,480 325,490 340,493 355,495 375,498 390,500 400,500" fill="none" stroke="#cf1034" stroke-width="1.9" vector-effect="non-scaling-stroke" stroke-linejoin="round"/>
<polyline points="25,500 35,480 45,400 52,300 58,180 63,80 67,45 72,55 76,45 80,80 85,130 90,160 95,190 100,230 105,270 110,310 115,320 120,340 125,380 130,400 135,420 140,440 150,460 160,465 170,470 180,470 190,475 200,478 210,475 220,478 230,475 240,470 248,455 255,460 260,450 268,455 275,448 282,450 288,465 295,475 302,478 308,465 315,458 320,470 330,485 340,490 345,480 350,485 355,492 362,495 375,498 390,500 400,500" fill="none" stroke="#1a5692" stroke-width="1.9" vector-effect="non-scaling-stroke" stroke-linejoin="round"/>
</g></g>
<rect x="321.3" y="120.8" width="90.5" height="89.8" fill="none" stroke="#111" stroke-width="1.3"/>
<line x1="319.1" y1="210.6" x2="321.3" y2="210.6" stroke="#000" stroke-width="1.2"/>
<line x1="321.3" y1="210.6" x2="321.3" y2="212.8" stroke="#000" stroke-width="1.2"/>
<text x="322.6" y="221.9" font-size="7.4" text-anchor="middle" fill="#222" stroke="#222" stroke-width="0.2" textLength="10.2" lengthAdjust="spacingAndGlyphs">10<tspan font-size="4.6" dy="-3.0">0</tspan></text>
<line x1="319.1" y1="188.15" x2="321.3" y2="188.15" stroke="#000" stroke-width="1.2"/>
<line x1="343.93" y1="210.6" x2="343.93" y2="212.8" stroke="#000" stroke-width="1.2"/>
<text x="345.23" y="221.9" font-size="7.4" text-anchor="middle" fill="#222" stroke="#222" stroke-width="0.2" textLength="10.2" lengthAdjust="spacingAndGlyphs">10<tspan font-size="4.6" dy="-3.0">1</tspan></text>
<line x1="319.1" y1="165.7" x2="321.3" y2="165.7" stroke="#000" stroke-width="1.2"/>
<line x1="366.55" y1="210.6" x2="366.55" y2="212.8" stroke="#000" stroke-width="1.2"/>
<text x="367.85" y="221.9" font-size="7.4" text-anchor="middle" fill="#222" stroke="#222" stroke-width="0.2" textLength="10.2" lengthAdjust="spacingAndGlyphs">10<tspan font-size="4.6" dy="-3.0">2</tspan></text>
<line x1="319.1" y1="143.25" x2="321.3" y2="143.25" stroke="#000" stroke-width="1.2"/>
<line x1="389.18" y1="210.6" x2="389.18" y2="212.8" stroke="#000" stroke-width="1.2"/>
<text x="390.48" y="221.9" font-size="7.4" text-anchor="middle" fill="#222" stroke="#222" stroke-width="0.2" textLength="10.2" lengthAdjust="spacingAndGlyphs">10<tspan font-size="4.6" dy="-3.0">3</tspan></text>
<line x1="319.1" y1="120.8" x2="321.3" y2="120.8" stroke="#000" stroke-width="1.2"/>
<line x1="411.8" y1="210.6" x2="411.8" y2="212.8" stroke="#000" stroke-width="1.2"/>
<text x="413.1" y="221.9" font-size="7.4" text-anchor="middle" fill="#222" stroke="#222" stroke-width="0.2" textLength="10.2" lengthAdjust="spacingAndGlyphs">10<tspan font-size="4.6" dy="-3.0">4</tspan></text>
<text x="318.9" y="123.4" font-size="8.4" text-anchor="end" fill="#222" stroke="#222" stroke-width="0.3" textLength="12.2" lengthAdjust="spacingAndGlyphs">100</text>
<text x="318.9" y="213.5" font-size="8.4" text-anchor="end" fill="#222" stroke="#222" stroke-width="0.3">0</text>
<text x="365.5" y="112.5" font-size="9.6" text-anchor="middle" fill="#222" stroke="#222" stroke-width="0.08" textLength="10.2" lengthAdjust="spacingAndGlyphs">D5</text>
<text x="309.4" y="171" font-size="10.2" text-anchor="middle" fill="#222" stroke="#222" stroke-width="0.3" transform="rotate(-90 309.4 171)" textLength="23.1" lengthAdjust="spacingAndGlyphs">Counts</text>
<line x1="321.6" y1="228.7" x2="394.1" y2="228.7" stroke="#000" stroke-width="1.5"/>
<path d="M402.1 228.7L393.1 224.95L395.35 228.7L393.1 232.45Z" fill="#000"/>
<text x="359.7" y="241.1" font-size="10" text-anchor="middle" fill="#222" stroke="#222" stroke-width="0.3" textLength="16.7" lengthAdjust="spacingAndGlyphs">CFSE</text>
<g clip-path="url(#hcE0)"><g transform="translate(51 440) scale(0.18)">
<polygon points="8,500 20,485 30,475 38,470 45,480 55,495 70,495 80,480 85,472 92,485 100,498 160,498 165,490 172,488 178,495 185,500 375,500 385,480 392,440 398,320 404,180 408,80 412,55 416,80 420,180 426,330 430,430 435,480 440,498 505,500" fill="#9a7db2" fill-opacity="0.85" stroke="#5b2a7e" stroke-width="1.1" vector-effect="non-scaling-stroke" stroke-linejoin="round"/>
<polyline points="8,465 20,470 35,480 50,485 70,490 90,495 110,498 130,500 370,500 378,490 385,470 390,430 395,350 400,200 405,100 410,55 415,60 420,150 425,300 430,430 435,485 440,500 505,500" fill="none" stroke="#1a5692" stroke-width="1.9" vector-effect="non-scaling-stroke" stroke-linejoin="round"/>
<polyline points="8,485 20,487 40,490 60,495 80,498 100,500 370,500 380,490 390,470 395,420 400,300 405,150 410,60 415,55 420,120 425,280 430,420 435,480 440,498 445,500 505,500" fill="none" stroke="#cf1034" stroke-width="1.9" vector-effect="non-scaling-stroke" stroke-linejoin="round"/>
</g></g>
<rect x="52.4" y="442.1" width="90.1" height="89.8" fill="none" stroke="#111" stroke-width="1.3"/>
<line x1="50.2" y1="531.9" x2="52.4" y2="531.9" stroke="#000" stroke-width="1.2"/>
<line x1="52.4" y1="531.9" x2="52.4" y2="534.1" stroke="#000" stroke-width="1.2"/>
<text x="53.7" y="543.2" font-size="7.4" text-anchor="middle" fill="#222" stroke="#222" stroke-width="0.2" textLength="10.2" lengthAdjust="spacingAndGlyphs">10<tspan font-size="4.6" dy="-3.0">0</tspan></text>
<line x1="50.2" y1="509.45" x2="52.4" y2="509.45" stroke="#000" stroke-width="1.2"/>
<line x1="74.92" y1="531.9" x2="74.92" y2="534.1" stroke="#000" stroke-width="1.2"/>
<text x="76.22" y="543.2" font-size="7.4" text-anchor="middle" fill="#222" stroke="#222" stroke-width="0.2" textLength="10.2" lengthAdjust="spacingAndGlyphs">10<tspan font-size="4.6" dy="-3.0">1</tspan></text>
<line x1="50.2" y1="487" x2="52.4" y2="487" stroke="#000" stroke-width="1.2"/>
<line x1="97.45" y1="531.9" x2="97.45" y2="534.1" stroke="#000" stroke-width="1.2"/>
<text x="98.75" y="543.2" font-size="7.4" text-anchor="middle" fill="#222" stroke="#222" stroke-width="0.2" textLength="10.2" lengthAdjust="spacingAndGlyphs">10<tspan font-size="4.6" dy="-3.0">2</tspan></text>
<line x1="50.2" y1="464.55" x2="52.4" y2="464.55" stroke="#000" stroke-width="1.2"/>
<line x1="119.97" y1="531.9" x2="119.97" y2="534.1" stroke="#000" stroke-width="1.2"/>
<text x="121.27" y="543.2" font-size="7.4" text-anchor="middle" fill="#222" stroke="#222" stroke-width="0.2" textLength="10.2" lengthAdjust="spacingAndGlyphs">10<tspan font-size="4.6" dy="-3.0">3</tspan></text>
<line x1="50.2" y1="442.1" x2="52.4" y2="442.1" stroke="#000" stroke-width="1.2"/>
<line x1="142.5" y1="531.9" x2="142.5" y2="534.1" stroke="#000" stroke-width="1.2"/>
<text x="143.8" y="543.2" font-size="7.4" text-anchor="middle" fill="#222" stroke="#222" stroke-width="0.2" textLength="10.2" lengthAdjust="spacingAndGlyphs">10<tspan font-size="4.6" dy="-3.0">4</tspan></text>
<text x="50" y="444.7" font-size="8.4" text-anchor="end" fill="#222" stroke="#222" stroke-width="0.3" textLength="12.2" lengthAdjust="spacingAndGlyphs">100</text>
<text x="50" y="534.8" font-size="8.4" text-anchor="end" fill="#222" stroke="#222" stroke-width="0.3">0</text>
<text x="95.7" y="433.8" font-size="9.6" text-anchor="middle" fill="#222" stroke="#222" stroke-width="0.08" textLength="10.2" lengthAdjust="spacingAndGlyphs">D1</text>
<text x="40.5" y="492.3" font-size="10.2" text-anchor="middle" fill="#222" stroke="#222" stroke-width="0.3" transform="rotate(-90 40.5 492.3)" textLength="23.1" lengthAdjust="spacingAndGlyphs">Counts</text>
<line x1="52.7" y1="550" x2="125.2" y2="550" stroke="#000" stroke-width="1.5"/>
<path d="M133.2 550L124.2 546.25L126.45 550L124.2 553.75Z" fill="#000"/>
<text x="90.8" y="562.4" font-size="10" text-anchor="middle" fill="#222" stroke="#222" stroke-width="0.3" textLength="16.7" lengthAdjust="spacingAndGlyphs">CFSE</text>
<g clip-path="url(#hcE1)"><g transform="translate(185 440) scale(0.18)">
<polygon points="10,500 40,500 55,495 70,495 85,490 100,470 110,475 120,485 130,490 140,495 150,500 320,500 335,495 345,500 360,495 365,480 375,440 385,380 392,300 398,180 403,90 406,45 410,100 415,200 420,280 425,340 430,380 435,420 440,460 445,490 450,500 505,500" fill="#9a7db2" fill-opacity="0.85" stroke="#5b2a7e" stroke-width="1.1" vector-effect="non-scaling-stroke" stroke-linejoin="round"/>
<polyline points="20,500 30,470 38,450 45,440 52,445 58,460 65,470 72,480 78,470 85,478 92,485 100,488 110,485 120,482 130,490 140,480 148,470 155,455 160,440 165,420 172,400 178,360 185,300 192,270 198,290 203,310 208,300 213,340 218,370 223,320 228,240 233,170 238,150 243,180 248,220 253,270 258,300 263,250 268,200 273,170 278,140 283,120 288,110 293,80 297,45 302,100 307,170 312,220 317,270 322,330 327,355 332,340 337,320 342,330 347,380 352,410 357,420 362,390 367,360 372,350 377,370 382,390 387,420 392,440 397,430 402,410 407,400 412,410 417,425 422,440 427,450 432,460 437,470 442,485 448,500 505,500" fill="none" stroke="#cf1034" stroke-width="1.9" vector-effect="non-scaling-stroke" stroke-linejoin="round"/>
<polyline points="10,500 18,480 25,460 32,458 40,465 48,455 55,462 62,475 70,440 75,390 80,350 85,365 90,385 95,380 100,390 105,410 110,430 115,445 120,420 125,405 130,390 135,375 140,385 145,380 150,370 155,375 160,350 165,300 170,180 175,80 178,45 182,120 187,210 192,150 198,100 203,60 208,90 212,150 217,180 222,165 227,180 232,175 237,210 242,250 247,300 252,320 257,290 262,200 267,100 272,60 277,80 282,130 287,190 292,165 297,150 302,120 307,110 312,95 318,130 323,180 328,230 333,260 338,300 343,370 348,420 353,445 358,445 363,420 368,400 373,420 378,410 383,380 388,350 393,330 398,310 403,300 408,290 413,305 418,330 423,360 428,390 433,420 438,440 443,460 448,480 453,495 458,500 505,500" fill="none" stroke="#1a5692" stroke-width="1.9" vector-effect="non-scaling-stroke" stroke-linejoin="round"/>
</g></g>
<rect x="186.6" y="442.1" width="90" height="89.8" fill="none" stroke="#111" stroke-width="1.3"/>
<line x1="184.4" y1="531.9" x2="186.6" y2="531.9" stroke="#000" stroke-width="1.2"/>
<line x1="186.6" y1="531.9" x2="186.6" y2="534.1" stroke="#000" stroke-width="1.2"/>
<text x="187.9" y="543.2" font-size="7.4" text-anchor="middle" fill="#222" stroke="#222" stroke-width="0.2" textLength="10.2" lengthAdjust="spacingAndGlyphs">10<tspan font-size="4.6" dy="-3.0">0</tspan></text>
<line x1="184.4" y1="509.45" x2="186.6" y2="509.45" stroke="#000" stroke-width="1.2"/>
<line x1="209.1" y1="531.9" x2="209.1" y2="534.1" stroke="#000" stroke-width="1.2"/>
<text x="210.4" y="543.2" font-size="7.4" text-anchor="middle" fill="#222" stroke="#222" stroke-width="0.2" textLength="10.2" lengthAdjust="spacingAndGlyphs">10<tspan font-size="4.6" dy="-3.0">1</tspan></text>
<line x1="184.4" y1="487" x2="186.6" y2="487" stroke="#000" stroke-width="1.2"/>
<line x1="231.6" y1="531.9" x2="231.6" y2="534.1" stroke="#000" stroke-width="1.2"/>
<text x="232.9" y="543.2" font-size="7.4" text-anchor="middle" fill="#222" stroke="#222" stroke-width="0.2" textLength="10.2" lengthAdjust="spacingAndGlyphs">10<tspan font-size="4.6" dy="-3.0">2</tspan></text>
<line x1="184.4" y1="464.55" x2="186.6" y2="464.55" stroke="#000" stroke-width="1.2"/>
<line x1="254.1" y1="531.9" x2="254.1" y2="534.1" stroke="#000" stroke-width="1.2"/>
<text x="255.4" y="543.2" font-size="7.4" text-anchor="middle" fill="#222" stroke="#222" stroke-width="0.2" textLength="10.2" lengthAdjust="spacingAndGlyphs">10<tspan font-size="4.6" dy="-3.0">3</tspan></text>
<line x1="184.4" y1="442.1" x2="186.6" y2="442.1" stroke="#000" stroke-width="1.2"/>
<line x1="276.6" y1="531.9" x2="276.6" y2="534.1" stroke="#000" stroke-width="1.2"/>
<text x="277.9" y="543.2" font-size="7.4" text-anchor="middle" fill="#222" stroke="#222" stroke-width="0.2" textLength="10.2" lengthAdjust="spacingAndGlyphs">10<tspan font-size="4.6" dy="-3.0">4</tspan></text>
<text x="184.2" y="444.7" font-size="8.4" text-anchor="end" fill="#222" stroke="#222" stroke-width="0.3" textLength="12.2" lengthAdjust="spacingAndGlyphs">100</text>
<text x="184.2" y="534.8" font-size="8.4" text-anchor="end" fill="#222" stroke="#222" stroke-width="0.3">0</text>
<text x="231.5" y="433.8" font-size="9.6" text-anchor="middle" fill="#222" stroke="#222" stroke-width="0.08" textLength="10.2" lengthAdjust="spacingAndGlyphs">D3</text>
<text x="174.7" y="492.3" font-size="10.2" text-anchor="middle" fill="#222" stroke="#222" stroke-width="0.3" transform="rotate(-90 174.7 492.3)" textLength="23.1" lengthAdjust="spacingAndGlyphs">Counts</text>
<line x1="186.9" y1="550" x2="259.4" y2="550" stroke="#000" stroke-width="1.5"/>
<path d="M267.4 550L258.4 546.25L260.65 550L258.4 553.75Z" fill="#000"/>
<text x="225" y="562.4" font-size="10" text-anchor="middle" fill="#222" stroke="#222" stroke-width="0.3" textLength="16.7" lengthAdjust="spacingAndGlyphs">CFSE</text>
<g clip-path="url(#hcE2)"><g transform="translate(320 440) scale(0.18)">
<polygon points="10,505 60,505 75,500 90,495 105,490 115,492 125,500 140,505 400,505 408,490 412,430 416,320 420,180 424,80 427,50 431,120 435,280 438,400 441,470 445,500 450,505 505,505" fill="#9a7db2" fill-opacity="0.85" stroke="#5b2a7e" stroke-width="1.1" vector-effect="non-scaling-stroke" stroke-linejoin="round"/>
<polyline points="25,505 40,490 50,440 58,350 65,250 72,170 78,150 83,160 88,100 93,60 98,55 103,80 108,150 113,220 118,260 123,290 128,320 133,345 138,370 143,400 148,430 152,420 158,430 163,445 168,430 173,425 178,445 183,465 190,475 197,490 203,470 208,440 213,425 218,450 223,480 228,470 233,455 240,470 246,480 250,460 255,440 260,445 265,465 270,480 275,470 280,450 285,460 290,470 295,465 300,455 305,460 310,465 315,480 320,460 325,440 330,445 335,470 340,480 345,490 350,465 355,455 360,470 365,485 370,480 375,470 380,480 385,490 390,495 400,500 410,490 418,470 422,470 428,485 432,495 440,505 505,505" fill="none" stroke="#cf1034" stroke-width="1.9" vector-effect="non-scaling-stroke" stroke-linejoin="round"/>
<polyline points="15,505 25,495 35,490 45,470 55,400 62,300 68,180 73,120 78,100 83,70 88,50 93,60 97,120 100,190 105,230 110,260 115,300 120,330 125,360 130,390 135,410 140,425 145,440 150,455 155,465 162,475 170,485 180,495 190,495 198,480 205,465 212,470 220,460 228,465 235,460 242,470 250,455 258,462 265,458 272,450 280,440 288,445 295,460 302,450 310,445 318,460 325,440 330,455 337,470 345,450 352,445 358,460 365,475 372,480 380,490 388,490 395,480 402,470 408,480 415,470 422,450 428,435 432,450 436,480 440,500 445,505 505,505" fill="none" stroke="#1a5692" stroke-width="1.9" vector-effect="non-scaling-stroke" stroke-linejoin="round"/>
</g></g>
<rect x="321.3" y="442.1" width="90.5" height="89.8" fill="none" stroke="#111" stroke-width="1.3"/>
<line x1="319.1" y1="531.9" x2="321.3" y2="531.9" stroke="#000" stroke-width="1.2"/>
<line x1="321.3" y1="531.9" x2="321.3" y2="534.1" stroke="#000" stroke-width="1.2"/>
<text x="322.6" y="543.2" font-size="7.4" text-anchor="middle" fill="#222" stroke="#222" stroke-width="0.2" textLength="10.2" lengthAdjust="spacingAndGlyphs">10<tspan font-size="4.6" dy="-3.0">0</tspan></text>
<line x1="319.1" y1="509.45" x2="321.3" y2="509.45" stroke="#000" stroke-width="1.2"/>
<line x1="343.93" y1="531.9" x2="343.93" y2="534.1" stroke="#000" stroke-width="1.2"/>
<text x="345.23" y="543.2" font-size="7.4" text-anchor="middle" fill="#222" stroke="#222" stroke-width="0.2" textLength="10.2" lengthAdjust="spacingAndGlyphs">10<tspan font-size="4.6" dy="-3.0">1</tspan></text>
<line x1="319.1" y1="487" x2="321.3" y2="487" stroke="#000" stroke-width="1.2"/>
<line x1="366.55" y1="531.9" x2="366.55" y2="534.1" stroke="#000" stroke-width="1.2"/>
<text x="367.85" y="543.2" font-size="7.4" text-anchor="middle" fill="#222" stroke="#222" stroke-width="0.2" textLength="10.2" lengthAdjust="spacingAndGlyphs">10<tspan font-size="4.6" dy="-3.0">2</tspan></text>
<line x1="319.1" y1="464.55" x2="321.3" y2="464.55" stroke="#000" stroke-width="1.2"/>
<line x1="389.18" y1="531.9" x2="389.18" y2="534.1" stroke="#000" stroke-width="1.2"/>
<text x="390.48" y="543.2" font-size="7.4" text-anchor="middle" fill="#222" stroke="#222" stroke-width="0.2" textLength="10.2" lengthAdjust="spacingAndGlyphs">10<tspan font-size="4.6" dy="-3.0">3</tspan></text>
<line x1="319.1" y1="442.1" x2="321.3" y2="442.1" stroke="#000" stroke-width="1.2"/>
<line x1="411.8" y1="531.9" x2="411.8" y2="534.1" stroke="#000" stroke-width="1.2"/>
<text x="413.1" y="543.2" font-size="7.4" text-anchor="middle" fill="#222" stroke="#222" stroke-width="0.2" textLength="10.2" lengthAdjust="spacingAndGlyphs">10<tspan font-size="4.6" dy="-3.0">4</tspan></text>
<text x="318.9" y="444.7" font-size="8.4" text-anchor="end" fill="#222" stroke="#222" stroke-width="0.3" textLength="12.2" lengthAdjust="spacingAndGlyphs">100</text>
<text x="318.9" y="534.8" font-size="8.4" text-anchor="end" fill="#222" stroke="#222" stroke-width="0.3">0</text>
<text x="367" y="433.8" font-size="9.6" text-anchor="middle" fill="#222" stroke="#222" stroke-width="0.08" textLength="10.2" lengthAdjust="spacingAndGlyphs">D5</text>
<text x="309.4" y="492.3" font-size="10.2" text-anchor="middle" fill="#222" stroke="#222" stroke-width="0.3" transform="rotate(-90 309.4 492.3)" textLength="23.1" lengthAdjust="spacingAndGlyphs">Counts</text>
<line x1="321.6" y1="550" x2="394.1" y2="550" stroke="#000" stroke-width="1.5"/>
<path d="M402.1 550L393.1 546.25L395.35 550L393.1 553.75Z" fill="#000"/>
<text x="359.7" y="562.4" font-size="10" text-anchor="middle" fill="#222" stroke="#222" stroke-width="0.3" textLength="16.7" lengthAdjust="spacingAndGlyphs">CFSE</text>
<rect x="65.1" y="320.6" width="23" height="55.8" fill="#c8102e"/>
<rect x="100.2" y="335.3" width="23.9" height="41.1" fill="#134f86"/>
<line x1="76.3" y1="303.3" x2="76.3" y2="337.9" stroke="#000" stroke-width="1.4"/>
<line x1="69.8" y1="303.3" x2="82.8" y2="303.3" stroke="#000" stroke-width="1.4"/>
<line x1="69.8" y1="337.9" x2="82.8" y2="337.9" stroke="#000" stroke-width="1.4"/>
<circle cx="76.3" cy="297.7" r="1.95" fill="#000"/>
<circle cx="76.3" cy="310.2" r="1.95" fill="#000"/>
<circle cx="76.3" cy="319.4" r="1.95" fill="#000"/>
<circle cx="76.3" cy="334.8" r="1.95" fill="#000"/>
<circle cx="76.3" cy="340.5" r="1.95" fill="#000"/>
<line x1="112" y1="322.3" x2="112" y2="347.7" stroke="#000" stroke-width="1.4"/>
<line x1="105.5" y1="322.3" x2="118.5" y2="322.3" stroke="#000" stroke-width="1.4"/>
<line x1="105.5" y1="347.7" x2="118.5" y2="347.7" stroke="#000" stroke-width="1.4"/>
<circle cx="112" cy="313.7" r="1.95" fill="#000"/>
<circle cx="112" cy="327.5" r="1.95" fill="#000"/>
<circle cx="108.8" cy="338.7" r="1.95" fill="#000"/>
<circle cx="114.9" cy="337.5" r="1.95" fill="#000"/>
<circle cx="112" cy="344.8" r="1.95" fill="#000"/>
<circle cx="112" cy="347.4" r="1.95" fill="#000"/>
<line x1="53" y1="278.05" x2="53" y2="377.1" stroke="#000" stroke-width="1.6"/>
<line x1="48.4" y1="376.4" x2="135.7" y2="376.4" stroke="#000" stroke-width="1.6"/>
<line x1="48.4" y1="278.75" x2="53" y2="278.75" stroke="#000" stroke-width="1.4"/>
<line x1="48.4" y1="327.57" x2="53" y2="327.57" stroke="#000" stroke-width="1.4"/>
<line x1="76.3" y1="376.4" x2="76.3" y2="380.6" stroke="#000" stroke-width="1.4"/>
<line x1="112" y1="376.4" x2="112" y2="380.6" stroke="#000" stroke-width="1.4"/>
<text x="47.4" y="281.75" font-size="8.6" text-anchor="end" fill="#222" stroke="#222" stroke-width="0.3" textLength="13.6" lengthAdjust="spacingAndGlyphs">100</text>
<text x="47.4" y="330.57" font-size="8.6" text-anchor="end" fill="#222" stroke="#222" stroke-width="0.3" textLength="9.4" lengthAdjust="spacingAndGlyphs">50</text>
<text x="47.4" y="379.4" font-size="8.6" text-anchor="end" fill="#222" stroke="#222" stroke-width="0.3">0</text>
<path d="M58.3 287.8 L58.3 284.6 L127 284.6 L127 287.8" fill="none" stroke="#111" stroke-width="1.5"/>
<text x="95.2" y="281.6" font-size="7.5" text-anchor="middle" fill="#222" stroke="#222" stroke-width="0.3">ns</text>
<text x="94.5" y="266.8" font-size="9.9" text-anchor="middle" fill="#111" stroke="#111" stroke-width="0.12" textLength="11.6" lengthAdjust="spacingAndGlyphs">D3</text>
<g transform="translate(29.5 331) rotate(-90)"><text x="0" y="0" font-size="9.8" text-anchor="middle" fill="#222" stroke="#222" stroke-width="0.2" textLength="62.7" lengthAdjust="spacingAndGlyphs">% OTII CD44<tspan font-size="6" dy="-3.8" fill="#777" stroke="none">hi</tspan><tspan dy="3.8"> cells</tspan></text></g>
<text x="79.7" y="387.8" font-size="8.5" text-anchor="end" fill="#111" stroke="#111" stroke-width="0.2" transform="rotate(-45 79.7 387.8)">MZ KO Ctrl</text>
<text x="115.4" y="387.8" font-size="8.5" text-anchor="end" fill="#111" stroke="#111" stroke-width="0.2" transform="rotate(-45 115.4 387.8)">MZ KO</text>
<rect x="191.2" y="324.3" width="23.8" height="51.9" fill="#c8102e"/>
<rect x="227.2" y="327.1" width="23.1" height="49.1" fill="#134f86"/>
<line x1="203.2" y1="302.2" x2="203.2" y2="345.3" stroke="#000" stroke-width="1.4"/>
<line x1="196.7" y1="302.2" x2="209.7" y2="302.2" stroke="#000" stroke-width="1.4"/>
<line x1="196.7" y1="345.3" x2="209.7" y2="345.3" stroke="#000" stroke-width="1.4"/>
<circle cx="203.2" cy="298.5" r="1.95" fill="#000"/>
<circle cx="203.2" cy="313.5" r="1.95" fill="#000"/>
<circle cx="200.5" cy="342.8" r="1.95" fill="#000"/>
<circle cx="206.5" cy="341.6" r="1.95" fill="#000"/>
<line x1="238.8" y1="313" x2="238.8" y2="340.5" stroke="#000" stroke-width="1.4"/>
<line x1="232.3" y1="313" x2="245.3" y2="313" stroke="#000" stroke-width="1.4"/>
<line x1="232.3" y1="340.5" x2="245.3" y2="340.5" stroke="#000" stroke-width="1.4"/>
<circle cx="238.8" cy="310.7" r="1.95" fill="#000"/>
<circle cx="235.8" cy="316.9" r="1.95" fill="#000"/>
<circle cx="242" cy="316.5" r="1.95" fill="#000"/>
<circle cx="238.8" cy="335.8" r="1.95" fill="#000"/>
<circle cx="235.8" cy="343.9" r="1.95" fill="#000"/>
<circle cx="242" cy="343.9" r="1.95" fill="#000"/>
<line x1="178.1" y1="278.1" x2="178.1" y2="376.9" stroke="#000" stroke-width="1.6"/>
<line x1="173.5" y1="376.2" x2="262.8" y2="376.2" stroke="#000" stroke-width="1.6"/>
<line x1="173.5" y1="278.8" x2="178.1" y2="278.8" stroke="#000" stroke-width="1.4"/>
<line x1="173.5" y1="327.5" x2="178.1" y2="327.5" stroke="#000" stroke-width="1.4"/>
<line x1="203.2" y1="376.2" x2="203.2" y2="380.4" stroke="#000" stroke-width="1.4"/>
<line x1="238.8" y1="376.2" x2="238.8" y2="380.4" stroke="#000" stroke-width="1.4"/>
<text x="172.5" y="281.8" font-size="8.6" text-anchor="end" fill="#222" stroke="#222" stroke-width="0.3" textLength="13.6" lengthAdjust="spacingAndGlyphs">100</text>
<text x="172.5" y="330.5" font-size="8.6" text-anchor="end" fill="#222" stroke="#222" stroke-width="0.3" textLength="9.4" lengthAdjust="spacingAndGlyphs">50</text>
<text x="172.5" y="379.2" font-size="8.6" text-anchor="end" fill="#222" stroke="#222" stroke-width="0.3">0</text>
<path d="M185 287.8 L185 284.6 L253.1 284.6 L253.1 287.8" fill="none" stroke="#111" stroke-width="1.5"/>
<text x="220.8" y="281.6" font-size="7.5" text-anchor="middle" fill="#222" stroke="#222" stroke-width="0.3">ns</text>
<text x="221.2" y="263.8" font-size="9.9" text-anchor="middle" fill="#111" stroke="#111" stroke-width="0.12" textLength="11.6" lengthAdjust="spacingAndGlyphs">D5</text>
<g transform="translate(152.7 330.8) rotate(-90)"><text x="0" y="0" font-size="9.8" text-anchor="middle" fill="#222" stroke="#222" stroke-width="0.2" textLength="60" lengthAdjust="spacingAndGlyphs">% OTII CD44<tspan font-size="6" dy="-3.8" fill="#777" stroke="none">hi</tspan><tspan dy="3.8"> cells</tspan></text></g>
<text x="206.6" y="387.6" font-size="8.5" text-anchor="end" fill="#111" stroke="#111" stroke-width="0.2" transform="rotate(-45 206.6 387.6)">MZ KO Ctrl</text>
<text x="242.2" y="387.6" font-size="8.5" text-anchor="end" fill="#111" stroke="#111" stroke-width="0.2" transform="rotate(-45 242.2 387.6)">MZ KO</text>
<rect x="315.2" y="296.2" width="23.3" height="79.8" fill="#c8102e"/>
<rect x="351.2" y="285.3" width="23.5" height="90.7" fill="#134f86"/>
<line x1="326.9" y1="284.6" x2="326.9" y2="306.1" stroke="#000" stroke-width="1.4"/>
<line x1="320.4" y1="284.6" x2="333.4" y2="284.6" stroke="#000" stroke-width="1.4"/>
<line x1="320.4" y1="306.1" x2="333.4" y2="306.1" stroke="#000" stroke-width="1.4"/>
<circle cx="320.5" cy="287.6" r="1.95" fill="#000"/>
<circle cx="326.9" cy="286.9" r="1.95" fill="#000"/>
<circle cx="333.4" cy="288.1" r="1.95" fill="#000"/>
<circle cx="326.9" cy="302.6" r="1.95" fill="#000"/>
<circle cx="326.9" cy="311.2" r="1.95" fill="#000"/>
<line x1="362.7" y1="281.2" x2="362.7" y2="288.1" stroke="#000" stroke-width="1.4"/>
<line x1="356.2" y1="281.2" x2="369.2" y2="281.2" stroke="#000" stroke-width="1.4"/>
<line x1="356.2" y1="288.1" x2="369.2" y2="288.1" stroke="#000" stroke-width="1.4"/>
<circle cx="356.9" cy="280.5" r="1.95" fill="#000"/>
<circle cx="362.7" cy="281.2" r="1.95" fill="#000"/>
<circle cx="368.5" cy="284.6" r="1.95" fill="#000"/>
<circle cx="361.5" cy="286.9" r="1.95" fill="#000"/>
<circle cx="362.7" cy="290.4" r="1.95" fill="#000"/>
<line x1="303.1" y1="277.7" x2="303.1" y2="376.7" stroke="#000" stroke-width="1.6"/>
<line x1="298.5" y1="376" x2="387" y2="376" stroke="#000" stroke-width="1.6"/>
<line x1="298.5" y1="278.4" x2="303.1" y2="278.4" stroke="#000" stroke-width="1.4"/>
<line x1="298.5" y1="327.2" x2="303.1" y2="327.2" stroke="#000" stroke-width="1.4"/>
<line x1="326.9" y1="376" x2="326.9" y2="380.2" stroke="#000" stroke-width="1.4"/>
<line x1="362.7" y1="376" x2="362.7" y2="380.2" stroke="#000" stroke-width="1.4"/>
<text x="297.5" y="281.4" font-size="8.6" text-anchor="end" fill="#222" stroke="#222" stroke-width="0.3" textLength="13.6" lengthAdjust="spacingAndGlyphs">100</text>
<text x="297.5" y="330.2" font-size="8.6" text-anchor="end" fill="#222" stroke="#222" stroke-width="0.3" textLength="9.4" lengthAdjust="spacingAndGlyphs">50</text>
<text x="297.5" y="379" font-size="8.6" text-anchor="end" fill="#222" stroke="#222" stroke-width="0.3">0</text>
<path d="M308.5 279.3 L308.5 276.1 L377.7 276.1 L377.7 279.3" fill="none" stroke="#111" stroke-width="1.5"/>
<text x="345.4" y="273.3" font-size="7.5" text-anchor="middle" fill="#222" stroke="#222" stroke-width="0.3">ns</text>
<text x="345.4" y="263.8" font-size="9.9" text-anchor="middle" fill="#111" stroke="#111" stroke-width="0.12" textLength="11.6" lengthAdjust="spacingAndGlyphs">D3</text>
<g transform="translate(281 331.5) rotate(-90)"><text x="0" y="0" font-size="9.8" text-anchor="middle" fill="#222" stroke="#222" stroke-width="0.2" textLength="66.4" lengthAdjust="spacingAndGlyphs">% OTIII CD62L<tspan font-size="6" dy="-3.8" fill="#777" stroke="none">hi</tspan><tspan dy="3.8"> cells</tspan></text></g>
<text x="330.3" y="387.4" font-size="8.5" text-anchor="end" fill="#111" stroke="#111" stroke-width="0.2" transform="rotate(-45 330.3 387.4)">MZ KO Ctrl</text>
<text x="366.1" y="387.4" font-size="8.5" text-anchor="end" fill="#111" stroke="#111" stroke-width="0.2" transform="rotate(-45 366.1 387.4)">MZ KO</text>
<rect x="436.5" y="295" width="23.6" height="81.2" fill="#c8102e"/>
<rect x="472.3" y="301.9" width="23.1" height="74.3" fill="#134f86"/>
<line x1="448.3" y1="286.2" x2="448.3" y2="303.5" stroke="#000" stroke-width="1.4"/>
<line x1="441.8" y1="286.2" x2="454.8" y2="286.2" stroke="#000" stroke-width="1.4"/>
<line x1="441.8" y1="303.5" x2="454.8" y2="303.5" stroke="#000" stroke-width="1.4"/>
<circle cx="448.3" cy="285.1" r="1.95" fill="#000"/>
<circle cx="448.3" cy="290.4" r="1.95" fill="#000"/>
<circle cx="448.3" cy="298.5" r="1.95" fill="#000"/>
<circle cx="448.3" cy="304.2" r="1.95" fill="#000"/>
<line x1="483.9" y1="293.4" x2="483.9" y2="310.5" stroke="#000" stroke-width="1.4"/>
<line x1="477.4" y1="293.4" x2="490.4" y2="293.4" stroke="#000" stroke-width="1.4"/>
<line x1="477.4" y1="310.5" x2="490.4" y2="310.5" stroke="#000" stroke-width="1.4"/>
<circle cx="483.9" cy="290.4" r="1.95" fill="#000"/>
<circle cx="481.5" cy="295.7" r="1.95" fill="#000"/>
<circle cx="483.9" cy="301.9" r="1.95" fill="#000"/>
<circle cx="480.4" cy="310" r="1.95" fill="#000"/>
<circle cx="487.3" cy="309.5" r="1.95" fill="#000"/>
<circle cx="479.2" cy="311.2" r="1.95" fill="#000"/>
<line x1="423.8" y1="278.1" x2="423.8" y2="376.9" stroke="#000" stroke-width="1.6"/>
<line x1="419.2" y1="376.2" x2="506.9" y2="376.2" stroke="#000" stroke-width="1.6"/>
<line x1="419.2" y1="278.8" x2="423.8" y2="278.8" stroke="#000" stroke-width="1.4"/>
<line x1="419.2" y1="327.5" x2="423.8" y2="327.5" stroke="#000" stroke-width="1.4"/>
<line x1="448.3" y1="376.2" x2="448.3" y2="380.4" stroke="#000" stroke-width="1.4"/>
<line x1="483.9" y1="376.2" x2="483.9" y2="380.4" stroke="#000" stroke-width="1.4"/>
<text x="418.2" y="281.8" font-size="8.6" text-anchor="end" fill="#222" stroke="#222" stroke-width="0.3" textLength="13.6" lengthAdjust="spacingAndGlyphs">100</text>
<text x="418.2" y="330.5" font-size="8.6" text-anchor="end" fill="#222" stroke="#222" stroke-width="0.3" textLength="9.4" lengthAdjust="spacingAndGlyphs">50</text>
<text x="418.2" y="379.2" font-size="8.6" text-anchor="end" fill="#222" stroke="#222" stroke-width="0.3">0</text>
<path d="M429.6 282.2 L429.6 279 L497.7 279 L497.7 282.2" fill="none" stroke="#111" stroke-width="1.5"/>
<text x="466.5" y="275.3" font-size="7.5" text-anchor="middle" fill="#222" stroke="#222" stroke-width="0.3">ns</text>
<text x="466.5" y="263.8" font-size="9.9" text-anchor="middle" fill="#111" stroke="#111" stroke-width="0.12" textLength="11.6" lengthAdjust="spacingAndGlyphs">D5</text>
<g transform="translate(404.3 331.5) rotate(-90)"><text x="0" y="0" font-size="9.8" text-anchor="middle" fill="#222" stroke="#222" stroke-width="0.2" textLength="64" lengthAdjust="spacingAndGlyphs">% OTIII CD62L<tspan font-size="6" dy="-3.8" fill="#777" stroke="none">hi</tspan><tspan dy="3.8"> cells</tspan></text></g>
<text x="451.7" y="387.6" font-size="8.5" text-anchor="end" fill="#111" stroke="#111" stroke-width="0.2" transform="rotate(-45 451.7 387.6)">MZ KO Ctrl</text>
<text x="487.3" y="387.6" font-size="8.5" text-anchor="end" fill="#111" stroke="#111" stroke-width="0.2" transform="rotate(-45 487.3 387.6)">MZ KO</text>
<rect x="58" y="638" width="16.25" height="49.6" fill="#c8102e"/>
<rect x="82.5" y="628.75" width="16.25" height="58.85" fill="#134f86"/>
<rect x="107" y="632.5" width="16.25" height="55.1" fill="#3ab54a"/>
<line x1="66.25" y1="625" x2="66.25" y2="651.25" stroke="#000" stroke-width="1.4"/>
<line x1="61.5" y1="625" x2="71" y2="625" stroke="#000" stroke-width="1.4"/>
<line x1="61.5" y1="651.25" x2="71" y2="651.25" stroke="#000" stroke-width="1.4"/>
<circle cx="66.25" cy="617.5" r="1.95" fill="#000"/>
<circle cx="66.25" cy="627.5" r="1.95" fill="#000"/>
<circle cx="62.5" cy="643.25" r="1.95" fill="#000"/>
<circle cx="68.75" cy="643.25" r="1.95" fill="#000"/>
<circle cx="66.25" cy="645" r="1.95" fill="#000"/>
<circle cx="66.25" cy="650.5" r="1.95" fill="#000"/>
<line x1="90.5" y1="609.25" x2="90.5" y2="648.25" stroke="#000" stroke-width="1.4"/>
<line x1="85.75" y1="609.25" x2="95.25" y2="609.25" stroke="#000" stroke-width="1.4"/>
<line x1="85.75" y1="648.25" x2="95.25" y2="648.25" stroke="#000" stroke-width="1.4"/>
<circle cx="87.5" cy="608.25" r="1.95" fill="#000"/>
<circle cx="93.25" cy="607" r="1.95" fill="#000"/>
<circle cx="87.5" cy="641.25" r="1.95" fill="#000"/>
<circle cx="87.5" cy="643.75" r="1.95" fill="#000"/>
<circle cx="93.25" cy="643" r="1.95" fill="#000"/>
<line x1="115" y1="613" x2="115" y2="651.75" stroke="#000" stroke-width="1.4"/>
<line x1="110.25" y1="613" x2="119.75" y2="613" stroke="#000" stroke-width="1.4"/>
<line x1="110.25" y1="651.75" x2="119.75" y2="651.75" stroke="#000" stroke-width="1.4"/>
<circle cx="115" cy="602.5" r="1.95" fill="#000"/>
<circle cx="115" cy="624.5" r="1.95" fill="#000"/>
<circle cx="115" cy="639.5" r="1.95" fill="#000"/>
<circle cx="115" cy="645" r="1.95" fill="#000"/>
<circle cx="115" cy="650.5" r="1.95" fill="#000"/>
<line x1="50" y1="593.55" x2="50" y2="688.3" stroke="#000" stroke-width="1.6"/>
<line x1="45.4" y1="687.6" x2="131.3" y2="687.6" stroke="#000" stroke-width="1.6"/>
<line x1="45.4" y1="594.25" x2="50" y2="594.25" stroke="#000" stroke-width="1.4"/>
<line x1="45.4" y1="640.92" x2="50" y2="640.92" stroke="#000" stroke-width="1.4"/>
<line x1="66.25" y1="687.6" x2="66.25" y2="691.8" stroke="#000" stroke-width="1.4"/>
<line x1="90.5" y1="687.6" x2="90.5" y2="691.8" stroke="#000" stroke-width="1.4"/>
<line x1="115" y1="687.6" x2="115" y2="691.8" stroke="#000" stroke-width="1.4"/>
<text x="44.4" y="597.25" font-size="8.6" text-anchor="end" fill="#222" stroke="#222" stroke-width="0.3" textLength="13.6" lengthAdjust="spacingAndGlyphs">100</text>
<text x="44.4" y="643.92" font-size="8.6" text-anchor="end" fill="#222" stroke="#222" stroke-width="0.3" textLength="9.4" lengthAdjust="spacingAndGlyphs">50</text>
<text x="44.4" y="690.6" font-size="8.6" text-anchor="end" fill="#222" stroke="#222" stroke-width="0.3">0</text>
<path d="M55.5 598.2 L55.5 595 L126.25 595 L126.25 598.2" fill="none" stroke="#111" stroke-width="1.5"/>
<text x="92.5" y="594" font-size="7.5" text-anchor="middle" fill="#222" stroke="#222" stroke-width="0.3">ns</text>
<text x="92" y="584.6" font-size="9.9" text-anchor="middle" fill="#111" stroke="#111" stroke-width="0.12" textLength="11.6" lengthAdjust="spacingAndGlyphs">D3</text>
<g transform="translate(29.75 642.4) rotate(-90)"><text x="0" y="0" font-size="9.8" text-anchor="middle" fill="#222" stroke="#222" stroke-width="0.2" textLength="62.75" lengthAdjust="spacingAndGlyphs">% OTII CD44<tspan font-size="6" dy="-3.8" fill="#777" stroke="none">hi</tspan><tspan dy="3.8"> cells</tspan></text></g>
<text x="68.55" y="698.2" font-size="8.2" text-anchor="end" fill="#111" stroke="#111" stroke-width="0.2" transform="rotate(-45 68.55 698.2)">B6</text>
<text x="92.8" y="698.2" font-size="8.2" text-anchor="end" fill="#111" stroke="#111" stroke-width="0.2" transform="rotate(-45 92.8 698.2)">MZ dep</text>
<text x="117.3" y="698.2" font-size="8.2" text-anchor="end" fill="#111" stroke="#111" stroke-width="0.2" transform="rotate(-45 117.3 698.2)">IC</text>
<rect x="175.5" y="647.5" width="16.25" height="40" fill="#c8102e"/>
<rect x="200" y="651.75" width="16.25" height="35.75" fill="#134f86"/>
<rect x="224.5" y="642.5" width="16.25" height="45" fill="#3ab54a"/>
<line x1="183.75" y1="643.75" x2="183.75" y2="652.5" stroke="#000" stroke-width="1.4"/>
<line x1="179" y1="643.75" x2="188.5" y2="643.75" stroke="#000" stroke-width="1.4"/>
<line x1="179" y1="652.5" x2="188.5" y2="652.5" stroke="#000" stroke-width="1.4"/>
<circle cx="180" cy="642.5" r="1.95" fill="#000"/>
<circle cx="187" cy="642.5" r="1.95" fill="#000"/>
<circle cx="181.25" cy="649.5" r="1.95" fill="#000"/>
<circle cx="186.25" cy="649.5" r="1.95" fill="#000"/>
<circle cx="183.75" cy="653.75" r="1.95" fill="#000"/>
<line x1="208" y1="642.5" x2="208" y2="658.75" stroke="#000" stroke-width="1.4"/>
<line x1="203.25" y1="642.5" x2="212.75" y2="642.5" stroke="#000" stroke-width="1.4"/>
<line x1="203.25" y1="658.75" x2="212.75" y2="658.75" stroke="#000" stroke-width="1.4"/>
<circle cx="208" cy="643.25" r="1.95" fill="#000"/>
<circle cx="202.5" cy="648.75" r="1.95" fill="#000"/>
<circle cx="215" cy="648" r="1.95" fill="#000"/>
<circle cx="208" cy="656.25" r="1.95" fill="#000"/>
<circle cx="208" cy="665" r="1.95" fill="#000"/>
<line x1="232.5" y1="633.75" x2="232.5" y2="648.75" stroke="#000" stroke-width="1.4"/>
<line x1="227.75" y1="633.75" x2="237.25" y2="633.75" stroke="#000" stroke-width="1.4"/>
<line x1="227.75" y1="648.75" x2="237.25" y2="648.75" stroke="#000" stroke-width="1.4"/>
<circle cx="228.75" cy="634.5" r="1.95" fill="#000"/>
<circle cx="235.5" cy="634.5" r="1.95" fill="#000"/>
<circle cx="228.75" cy="645" r="1.95" fill="#000"/>
<circle cx="235.5" cy="645" r="1.95" fill="#000"/>
<circle cx="230" cy="647.5" r="1.95" fill="#000"/>
<circle cx="235" cy="647.5" r="1.95" fill="#000"/>
<line x1="167.5" y1="593.55" x2="167.5" y2="688.2" stroke="#000" stroke-width="1.6"/>
<line x1="162.9" y1="687.5" x2="247.5" y2="687.5" stroke="#000" stroke-width="1.6"/>
<line x1="162.9" y1="594.25" x2="167.5" y2="594.25" stroke="#000" stroke-width="1.4"/>
<line x1="162.9" y1="640.88" x2="167.5" y2="640.88" stroke="#000" stroke-width="1.4"/>
<line x1="208" y1="687.5" x2="208" y2="691.7" stroke="#000" stroke-width="1.4"/>
<line x1="232.5" y1="687.5" x2="232.5" y2="691.7" stroke="#000" stroke-width="1.4"/>
<text x="161.9" y="597.25" font-size="8.6" text-anchor="end" fill="#222" stroke="#222" stroke-width="0.3" textLength="13.6" lengthAdjust="spacingAndGlyphs">100</text>
<text x="161.9" y="643.88" font-size="8.6" text-anchor="end" fill="#222" stroke="#222" stroke-width="0.3" textLength="9.4" lengthAdjust="spacingAndGlyphs">50</text>
<text x="161.9" y="690.5" font-size="8.6" text-anchor="end" fill="#222" stroke="#222" stroke-width="0.3">0</text>
<path d="M172.5 598.2 L172.5 595 L242.5 595 L242.5 598.2" fill="none" stroke="#111" stroke-width="1.5"/>
<text x="209.5" y="594" font-size="7.5" text-anchor="middle" fill="#222" stroke="#222" stroke-width="0.3">ns</text>
<text x="209.5" y="584.6" font-size="9.9" text-anchor="middle" fill="#111" stroke="#111" stroke-width="0.12" textLength="11.6" lengthAdjust="spacingAndGlyphs">D5</text>
<g transform="translate(149.75 642.4) rotate(-90)"><text x="0" y="0" font-size="9.8" text-anchor="middle" fill="#222" stroke="#222" stroke-width="0.2" textLength="62.75" lengthAdjust="spacingAndGlyphs">% OTII CD44<tspan font-size="6" dy="-3.8" fill="#777" stroke="none">hi</tspan><tspan dy="3.8"> cells</tspan></text></g>
<text x="186.05" y="698.1" font-size="8.2" text-anchor="end" fill="#111" stroke="#111" stroke-width="0.2" transform="rotate(-45 186.05 698.1)">B6</text>
<text x="210.3" y="698.1" font-size="8.2" text-anchor="end" fill="#111" stroke="#111" stroke-width="0.2" transform="rotate(-45 210.3 698.1)">MZ dep</text>
<text x="234.8" y="698.1" font-size="8.2" text-anchor="end" fill="#111" stroke="#111" stroke-width="0.2" transform="rotate(-45 234.8 698.1)">IC</text>
<rect x="311.25" y="606.25" width="16.25" height="81.75" fill="#c8102e"/>
<rect x="335.5" y="612" width="16.25" height="76" fill="#134f86"/>
<rect x="360" y="604.25" width="15.75" height="83.75" fill="#3ab54a"/>
<line x1="319.25" y1="601.25" x2="319.25" y2="610.5" stroke="#000" stroke-width="1.4"/>
<line x1="314.5" y1="601.25" x2="324" y2="601.25" stroke="#000" stroke-width="1.4"/>
<line x1="314.5" y1="610.5" x2="324" y2="610.5" stroke="#000" stroke-width="1.4"/>
<circle cx="315.5" cy="600.5" r="1.95" fill="#000"/>
<circle cx="311.75" cy="607" r="1.95" fill="#000"/>
<circle cx="319.25" cy="606.25" r="1.95" fill="#000"/>
<circle cx="325.5" cy="607.5" r="1.95" fill="#000"/>
<circle cx="313" cy="610" r="1.95" fill="#000"/>
<circle cx="317" cy="610.5" r="1.95" fill="#000"/>
<circle cx="321.25" cy="610" r="1.95" fill="#000"/>
<line x1="343.75" y1="605.5" x2="343.75" y2="619.25" stroke="#000" stroke-width="1.4"/>
<line x1="339" y1="605.5" x2="348.5" y2="605.5" stroke="#000" stroke-width="1.4"/>
<line x1="339" y1="619.25" x2="348.5" y2="619.25" stroke="#000" stroke-width="1.4"/>
<circle cx="343.75" cy="601.75" r="1.95" fill="#000"/>
<circle cx="340" cy="614.5" r="1.95" fill="#000"/>
<circle cx="346.25" cy="613.75" r="1.95" fill="#000"/>
<circle cx="342.5" cy="617.5" r="1.95" fill="#000"/>
<circle cx="343.75" cy="618" r="1.95" fill="#000"/>
<line x1="368" y1="601.75" x2="368" y2="607.5" stroke="#000" stroke-width="1.4"/>
<line x1="363.25" y1="601.75" x2="372.75" y2="601.75" stroke="#000" stroke-width="1.4"/>
<line x1="363.25" y1="607.5" x2="372.75" y2="607.5" stroke="#000" stroke-width="1.4"/>
<circle cx="361.25" cy="602" r="1.95" fill="#000"/>
<circle cx="365" cy="602" r="1.95" fill="#000"/>
<circle cx="370" cy="602.5" r="1.95" fill="#000"/>
<circle cx="374.5" cy="602" r="1.95" fill="#000"/>
<circle cx="365" cy="607.5" r="1.95" fill="#000"/>
<circle cx="370" cy="607.5" r="1.95" fill="#000"/>
<circle cx="368" cy="608.75" r="1.95" fill="#000"/>
<line x1="303" y1="594.3" x2="303" y2="688.7" stroke="#000" stroke-width="1.6"/>
<line x1="298.4" y1="688" x2="384" y2="688" stroke="#000" stroke-width="1.6"/>
<line x1="298.4" y1="595" x2="303" y2="595" stroke="#000" stroke-width="1.4"/>
<line x1="298.4" y1="641.5" x2="303" y2="641.5" stroke="#000" stroke-width="1.4"/>
<line x1="319.25" y1="688" x2="319.25" y2="692.2" stroke="#000" stroke-width="1.4"/>
<line x1="343.75" y1="688" x2="343.75" y2="692.2" stroke="#000" stroke-width="1.4"/>
<line x1="368" y1="688" x2="368" y2="692.2" stroke="#000" stroke-width="1.4"/>
<text x="297.4" y="598" font-size="8.6" text-anchor="end" fill="#222" stroke="#222" stroke-width="0.3" textLength="13.6" lengthAdjust="spacingAndGlyphs">100</text>
<text x="297.4" y="644.5" font-size="8.6" text-anchor="end" fill="#222" stroke="#222" stroke-width="0.3" textLength="9.4" lengthAdjust="spacingAndGlyphs">50</text>
<text x="297.4" y="691" font-size="8.6" text-anchor="end" fill="#222" stroke="#222" stroke-width="0.3">0</text>
<path d="M308 597.45 L308 594.25 L379.25 594.25 L379.25 597.45" fill="none" stroke="#111" stroke-width="1.5"/>
<text x="343.75" y="592" font-size="7.5" text-anchor="middle" fill="#222" stroke="#222" stroke-width="0.3">ns</text>
<text x="343.75" y="584.6" font-size="9.9" text-anchor="middle" fill="#111" stroke="#111" stroke-width="0.12" textLength="11.6" lengthAdjust="spacingAndGlyphs">D3</text>
<g transform="translate(281 642.4) rotate(-90)"><text x="0" y="0" font-size="9.8" text-anchor="middle" fill="#222" stroke="#222" stroke-width="0.2" textLength="64" lengthAdjust="spacingAndGlyphs">% OTIII CD62L<tspan font-size="6" dy="-3.8" fill="#777" stroke="none">hi</tspan><tspan dy="3.8"> cells</tspan></text></g>
<text x="321.55" y="698.6" font-size="8.2" text-anchor="end" fill="#111" stroke="#111" stroke-width="0.2" transform="rotate(-45 321.55 698.6)">B6</text>
<text x="346.05" y="698.6" font-size="8.2" text-anchor="end" fill="#111" stroke="#111" stroke-width="0.2" transform="rotate(-45 346.05 698.6)">MZ dep</text>
<text x="370.3" y="698.6" font-size="8.2" text-anchor="end" fill="#111" stroke="#111" stroke-width="0.2" transform="rotate(-45 370.3 698.6)">IC</text>
<rect x="433.25" y="613" width="16.25" height="74.5" fill="#c8102e"/>
<rect x="457.5" y="617" width="16.25" height="70.5" fill="#134f86"/>
<rect x="481.75" y="610.5" width="16.25" height="77" fill="#3ab54a"/>
<line x1="441.25" y1="608" x2="441.25" y2="616.75" stroke="#000" stroke-width="1.4"/>
<line x1="436.5" y1="608" x2="446" y2="608" stroke="#000" stroke-width="1.4"/>
<line x1="436.5" y1="616.75" x2="446" y2="616.75" stroke="#000" stroke-width="1.4"/>
<circle cx="441.25" cy="605" r="1.95" fill="#000"/>
<circle cx="441.25" cy="610" r="1.95" fill="#000"/>
<circle cx="438" cy="615.75" r="1.95" fill="#000"/>
<circle cx="444.5" cy="615.75" r="1.95" fill="#000"/>
<circle cx="438" cy="618" r="1.95" fill="#000"/>
<circle cx="444.5" cy="618" r="1.95" fill="#000"/>
<line x1="465.5" y1="607" x2="465.5" y2="628" stroke="#000" stroke-width="1.4"/>
<line x1="460.75" y1="607" x2="470.25" y2="607" stroke="#000" stroke-width="1.4"/>
<line x1="460.75" y1="628" x2="470.25" y2="628" stroke="#000" stroke-width="1.4"/>
<circle cx="465.5" cy="598.25" r="1.95" fill="#000"/>
<circle cx="465.5" cy="615" r="1.95" fill="#000"/>
<circle cx="462.5" cy="620" r="1.95" fill="#000"/>
<circle cx="468.75" cy="620" r="1.95" fill="#000"/>
<circle cx="465.5" cy="626.25" r="1.95" fill="#000"/>
<line x1="490" y1="607.5" x2="490" y2="613" stroke="#000" stroke-width="1.4"/>
<line x1="485.25" y1="607.5" x2="494.75" y2="607.5" stroke="#000" stroke-width="1.4"/>
<line x1="485.25" y1="613" x2="494.75" y2="613" stroke="#000" stroke-width="1.4"/>
<circle cx="483" cy="611.25" r="1.95" fill="#000"/>
<circle cx="488.75" cy="610" r="1.95" fill="#000"/>
<circle cx="492.5" cy="609.5" r="1.95" fill="#000"/>
<circle cx="497" cy="607.5" r="1.95" fill="#000"/>
<circle cx="497" cy="611.25" r="1.95" fill="#000"/>
<circle cx="497.5" cy="613.75" r="1.95" fill="#000"/>
<line x1="425" y1="593.55" x2="425" y2="688.2" stroke="#000" stroke-width="1.6"/>
<line x1="420.4" y1="687.5" x2="506.25" y2="687.5" stroke="#000" stroke-width="1.6"/>
<line x1="420.4" y1="594.25" x2="425" y2="594.25" stroke="#000" stroke-width="1.4"/>
<line x1="420.4" y1="640.88" x2="425" y2="640.88" stroke="#000" stroke-width="1.4"/>
<line x1="441.25" y1="687.5" x2="441.25" y2="691.7" stroke="#000" stroke-width="1.4"/>
<line x1="465.5" y1="687.5" x2="465.5" y2="691.7" stroke="#000" stroke-width="1.4"/>
<text x="419.4" y="597.25" font-size="8.6" text-anchor="end" fill="#222" stroke="#222" stroke-width="0.3" textLength="13.6" lengthAdjust="spacingAndGlyphs">100</text>
<text x="419.4" y="643.88" font-size="8.6" text-anchor="end" fill="#222" stroke="#222" stroke-width="0.3" textLength="9.4" lengthAdjust="spacingAndGlyphs">50</text>
<text x="419.4" y="690.5" font-size="8.6" text-anchor="end" fill="#222" stroke="#222" stroke-width="0.3">0</text>
<path d="M429.5 597.45 L429.5 594.25 L500 594.25 L500 597.45" fill="none" stroke="#111" stroke-width="1.5"/>
<text x="465" y="591.5" font-size="7.5" text-anchor="middle" fill="#222" stroke="#222" stroke-width="0.3">ns</text>
<text x="465" y="582.1" font-size="9.9" text-anchor="middle" fill="#111" stroke="#111" stroke-width="0.12" textLength="11.6" lengthAdjust="spacingAndGlyphs">D5</text>
<g transform="translate(404 642.4) rotate(-90)"><text x="0" y="0" font-size="9.8" text-anchor="middle" fill="#222" stroke="#222" stroke-width="0.2" textLength="64" lengthAdjust="spacingAndGlyphs">% OTIII CD62L<tspan font-size="6" dy="-3.8" fill="#777" stroke="none">hi</tspan><tspan dy="3.8"> cells</tspan></text></g>
<text x="443.55" y="698.1" font-size="8.2" text-anchor="end" fill="#111" stroke="#111" stroke-width="0.2" transform="rotate(-45 443.55 698.1)">B6</text>
<text x="467.8" y="698.1" font-size="8.2" text-anchor="end" fill="#111" stroke="#111" stroke-width="0.2" transform="rotate(-45 467.8 698.1)">MZ dep</text>
<text x="492.3" y="698.1" font-size="8.2" text-anchor="end" fill="#111" stroke="#111" stroke-width="0.2" transform="rotate(-45 492.3 698.1)">IC</text>
</svg>
</body></html>
